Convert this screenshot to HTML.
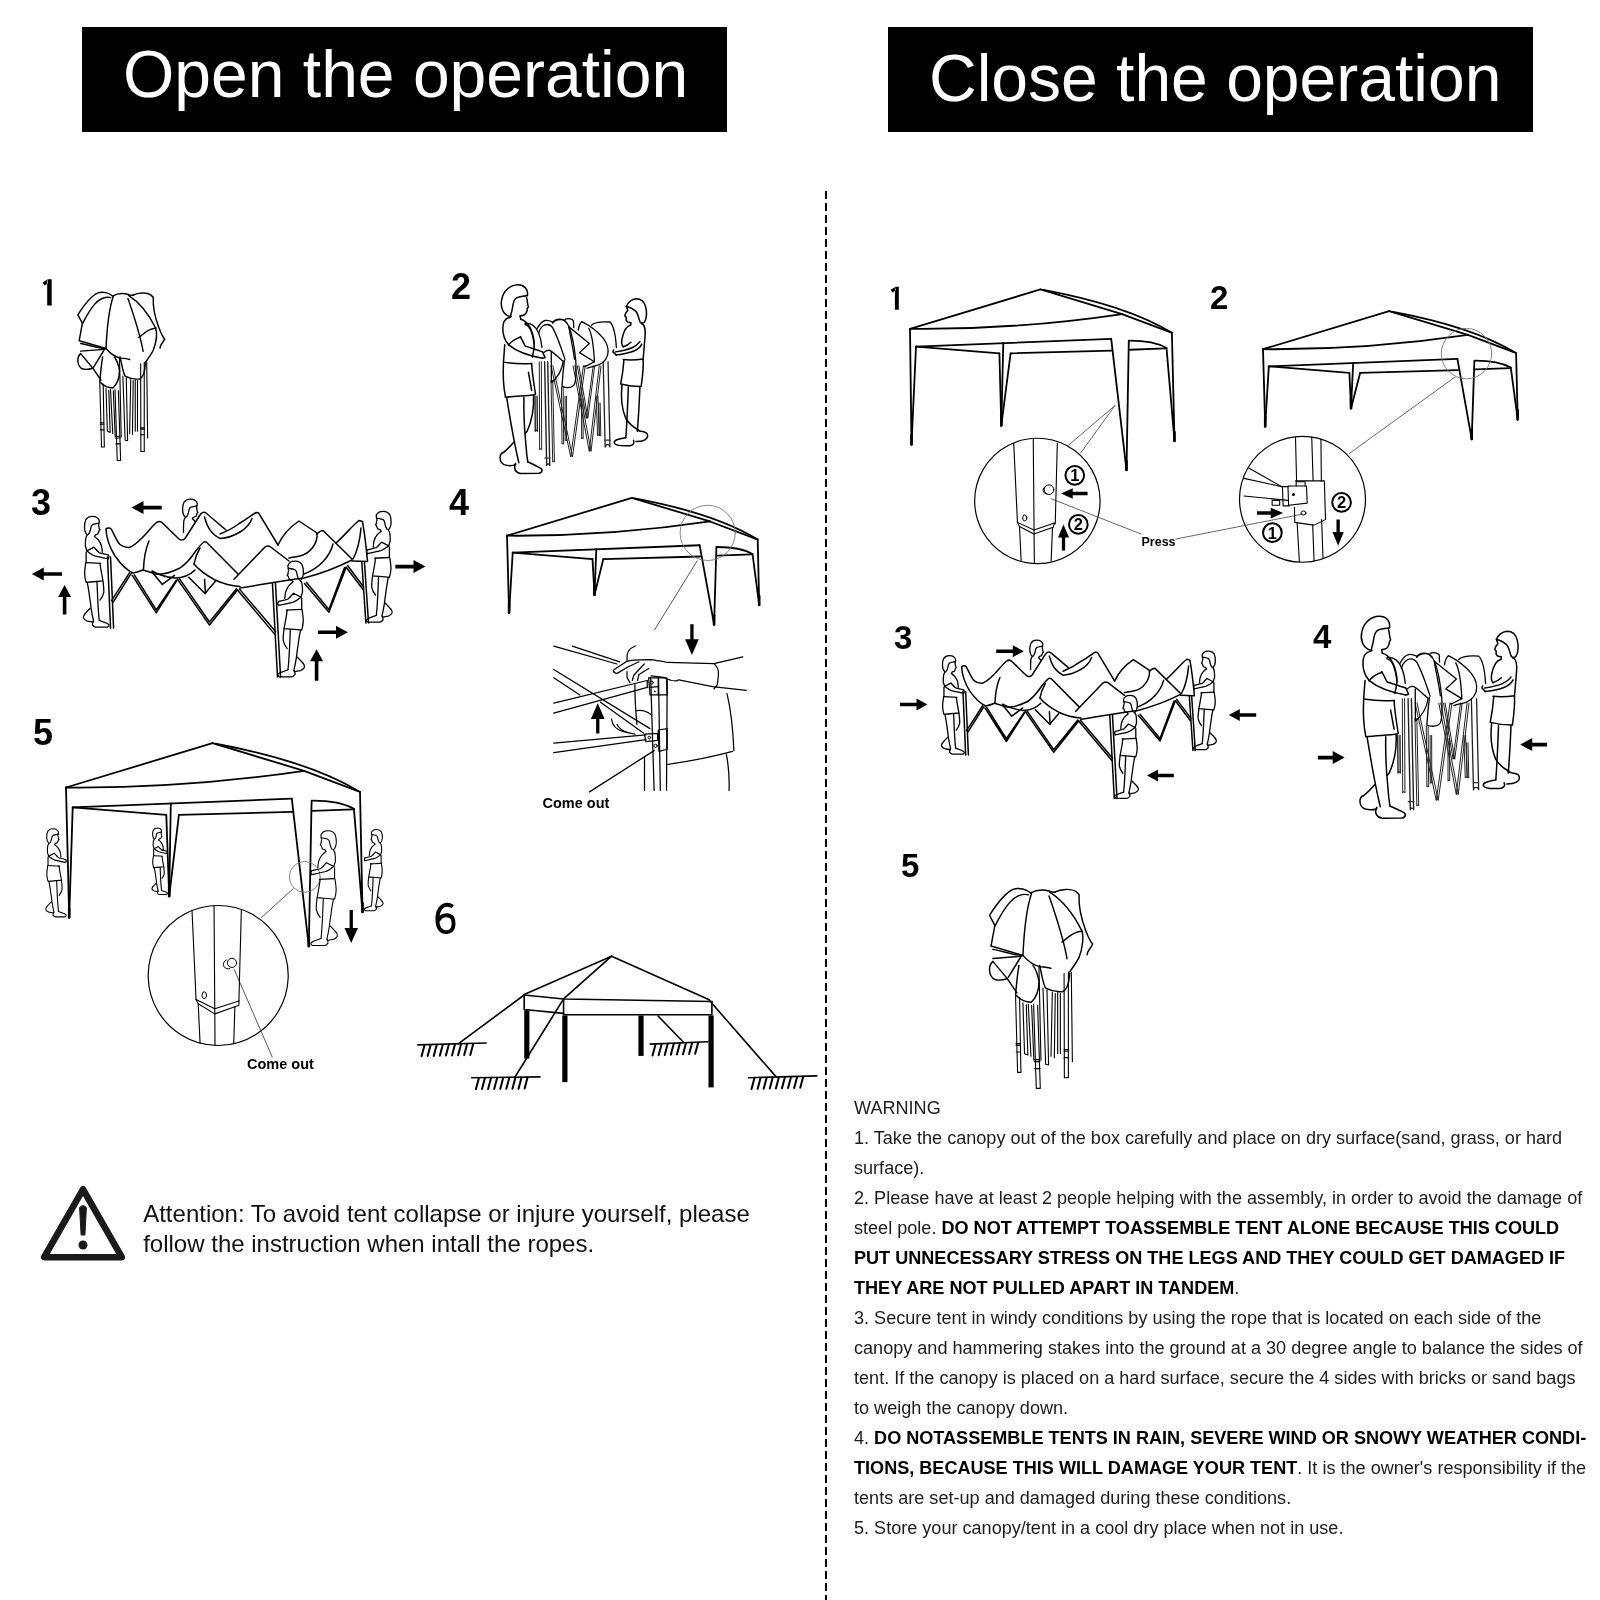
<!DOCTYPE html>
<html><head><meta charset="utf-8">
<style>
html,body{margin:0;padding:0;background:#fff;}
body{width:1600px;height:1600px;overflow:hidden;position:relative;font-family:"Liberation Sans",sans-serif;}
svg{position:absolute;left:0;top:0;filter:grayscale(1);}
.t{font-family:"Liberation Sans",sans-serif;}
</style></head>
<body>
<svg width="1600" height="1600" viewBox="0 0 1600 1600">
<rect x="0" y="0" width="1600" height="1600" fill="#fff"/>
<!-- titles -->
<rect x="82" y="27" width="645" height="105" fill="#000"/>
<rect x="888" y="27" width="645" height="105" fill="#000"/>
<text class="t" x="123" y="97" font-size="66" fill="#fff">Open the operation</text>
<text class="t" x="929" y="101" font-size="66" fill="#fff">Close the operation</text>
<!-- divider -->
<line x1="826" y1="191" x2="826" y2="1600" stroke="#000" stroke-width="2" stroke-dasharray="8 4"/>

<!-- step numbers -->
<g class="t" font-weight="bold" fill="#000" font-size="36">
<text x="451" y="299.3">2</text>
<text x="31" y="515.4">3</text>
<text x="449" y="515">4</text>
<text x="33" y="744.5">5</text>
</g>
<path transform="translate(0 -0.8)" d="M452.8 907.4 C449 905 445 905.3 442.3 907.2 C438.6 910 437.4 915 437.4 920.2 C437.4 926 439 930 442.4 932 C445 933.3 449 933.2 451.5 931 C454 928.6 454.2 922 452.4 918.8 C450.5 916.2 447.5 915.8 445 916.2 C442 916.8 439.6 918.6 438.2 921.6" fill="none" stroke="#000" stroke-width="3.9" stroke-linecap="butt"/>
<g class="t" font-weight="bold" fill="#000" font-size="33">
<text x="1210" y="308.7">2</text>
<text x="894" y="648.7">3</text>
<text x="1313" y="648.3">4</text>
<text x="901" y="877">5</text>
</g>

<path d="M47.2 279.3 L51.7 279.3 L51.7 305.5 L47.2 305.5 Z M47.6 279.4 L42.6 282.6 L44.4 285.6 L48 283.4 Z" fill="#000"/>
<path d="M894.9 286.8 L898.8 286.8 L898.8 309.7 L894.9 309.7 Z M895.2 286.9 L890.6 289.8 L892.3 292.6 L895.6 290.5 Z" fill="#000"/>
<!-- attention -->
<g id="warn-tri">
<path d="M83 1189.3 L44.2 1257.2 L121.8 1257.2 Z" fill="none" stroke="#1a1a1a" stroke-width="6.6" stroke-linejoin="round"/>
<path d="M79.6 1207.5 Q83 1203.8 86.4 1207.5 L84.9 1235 L81.1 1235 Z" fill="#1a1a1a" stroke="#1a1a1a" stroke-width="1" stroke-linejoin="round"/>
<circle cx="83" cy="1245" r="4.5" fill="#1a1a1a"/>
</g>
<g class="t" font-size="24" fill="#111">
<text x="143.2" y="1221.5">Attention: To avoid tent collapse or injure yourself, please</text>
<text x="143.2" y="1251.5">follow the instruction when intall the ropes.</text>
</g>

<!-- warning text -->
<g class="t" font-size="18.08" fill="#1c1c1c">
<text x="854" y="1114">WARNING</text>
<text x="854" y="1144">1. Take the canopy out of the box carefully and place on dry surface(sand, grass, or hard</text>
<text x="854" y="1174">surface).</text>
<text x="854" y="1204">2. Please have at least 2 people helping with the assembly, in order to avoid the damage of</text>
<text x="854" y="1234">steel pole. <tspan font-weight="bold" fill="#000">DO NOT ATTEMPT TOASSEMBLE TENT ALONE BECAUSE THIS COULD</tspan></text>
<text x="854" y="1264" font-weight="bold" fill="#000">PUT UNNECESSARY STRESS ON THE LEGS AND THEY COULD GET DAMAGED IF</text>
<text x="854" y="1294"><tspan font-weight="bold" fill="#000">THEY ARE NOT PULLED APART IN TANDEM</tspan>.</text>
<text x="854" y="1324">3. Secure tent in windy conditions by using the rope that is located on each side of the</text>
<text x="854" y="1354">canopy and hammering stakes into the ground at a 30 degree angle to balance the sides of</text>
<text x="854" y="1384">tent. If the canopy is placed on a hard surface, secure the 4 sides with bricks or sand bags</text>
<text x="854" y="1414">to weigh the canopy down.</text>
<text x="854" y="1444">4. <tspan font-weight="bold" fill="#000">DO NOTASSEMBLE TENTS IN RAIN, SEVERE WIND OR SNOWY WEATHER CONDI-</tspan></text>
<text x="854" y="1474"><tspan font-weight="bold" fill="#000">TIONS, BECAUSE THIS WILL DAMAGE YOUR TENT</tspan>. It is the owner's responsibility if the</text>
<text x="854" y="1504">tents are set-up and damaged during these conditions.</text>
<text x="854" y="1534">5. Store your canopy/tent in a cool dry place when not in use.</text>
</g>

<!-- DRAWINGS -->
<g id="drawings" fill="none" stroke="#000" stroke-linecap="round" stroke-linejoin="round">
<g transform="translate(910 328.9) scale(0.18125) translate(-55 -270)"><path d="M55 270 L775 52" stroke-width="1.8" vector-effect="non-scaling-stroke" /><path d="M775 52 L1225 188" stroke-width="1.8" vector-effect="non-scaling-stroke" /><path d="M790 55 Q1250 140 1500 292" stroke-width="1.8" vector-effect="non-scaling-stroke" /><path d="M1225 188 L1490 288" stroke-width="1.8" vector-effect="non-scaling-stroke" /><path d="M55 270 Q640 275 1225 188" stroke-width="1.8" vector-effect="non-scaling-stroke" /><path d="M88 368 L1165 325" stroke-width="1.8" vector-effect="non-scaling-stroke" /><path d="M88 368 L548 405" stroke-width="1.8" vector-effect="non-scaling-stroke" /><path d="M610 405 L1168 390" stroke-width="1.8" vector-effect="non-scaling-stroke" /><path d="M1268 335 Q1400 335 1470 375" stroke-width="1.8" vector-effect="non-scaling-stroke" /><path d="M1268 385 L1465 378" stroke-width="1.8" vector-effect="non-scaling-stroke" /></g><path d="M910.0 328.9 L911.5 444.5" stroke-width="1.8"/><path d="M916.0 346.7 L911.5 444.5" stroke-width="1.8"/><path d="M911.5 435.5 L911.5 444.5" stroke-width="2.6"/><path d="M1003.3 343.0 L1001.3 425.5" stroke-width="1.8"/><path d="M999.4 353.4 L1001.3 425.5" stroke-width="1.8"/><path d="M1010.6 353.4 L1001.3 425.5" stroke-width="1.8"/><path d="M1001.3 416.5 L1001.3 425.5" stroke-width="2.6"/><path d="M1111.2 338.9 L1126.5 470.0" stroke-width="1.8"/><path d="M1128.8 340.7 L1126.5 470.0" stroke-width="1.8"/><path d="M1126.5 461.0 L1126.5 470.0" stroke-width="2.6"/><path d="M1171.9 332.9 L1174.5 441.0" stroke-width="1.8"/><path d="M1166.5 347.9 L1174.5 441.0" stroke-width="1.8"/><path d="M1174.5 432.0 L1174.5 441.0" stroke-width="2.6"/>
<g transform="translate(1263 349.2) scale(0.17516) translate(-55 -270)"><path d="M55 270 L775 52" stroke-width="1.8" vector-effect="non-scaling-stroke" /><path d="M775 52 L1225 188" stroke-width="1.8" vector-effect="non-scaling-stroke" /><path d="M790 55 Q1250 140 1500 292" stroke-width="1.8" vector-effect="non-scaling-stroke" /><path d="M1225 188 L1490 288" stroke-width="1.8" vector-effect="non-scaling-stroke" /><path d="M55 270 Q640 275 1225 188" stroke-width="1.8" vector-effect="non-scaling-stroke" /><path d="M88 368 L1165 325" stroke-width="1.8" vector-effect="non-scaling-stroke" /><path d="M88 368 L548 405" stroke-width="1.8" vector-effect="non-scaling-stroke" /><path d="M610 405 L1168 390" stroke-width="1.8" vector-effect="non-scaling-stroke" /><path d="M1268 335 Q1400 335 1470 375" stroke-width="1.8" vector-effect="non-scaling-stroke" /><path d="M1268 385 L1465 378" stroke-width="1.8" vector-effect="non-scaling-stroke" /></g><path d="M1263.0 349.2 L1265.2 426.4" stroke-width="1.8"/><path d="M1268.8 366.4 L1265.2 426.4" stroke-width="1.8"/><path d="M1265.2 417.4 L1265.2 426.4" stroke-width="2.6"/><path d="M1353.2 362.9 L1351.0 408.3" stroke-width="1.8"/><path d="M1349.4 372.8 L1351.0 408.3" stroke-width="1.8"/><path d="M1360.2 372.8 L1351.0 408.3" stroke-width="1.8"/><path d="M1351.0 399.3 L1351.0 408.3" stroke-width="2.6"/><path d="M1457.4 358.8 L1471.7 439.1" stroke-width="1.8"/><path d="M1474.4 360.6 L1471.7 439.1" stroke-width="1.8"/><path d="M1471.7 430.1 L1471.7 439.1" stroke-width="2.6"/><path d="M1516.1 353.1 L1517.7 419.4" stroke-width="1.8"/><path d="M1510.8 367.6 L1517.7 419.4" stroke-width="1.8"/><path d="M1517.7 410.4 L1517.7 419.4" stroke-width="2.6"/>
<g transform="translate(507 535.7) scale(0.17349) translate(-55 -270)"><path d="M55 270 L775 52" stroke-width="1.8" vector-effect="non-scaling-stroke" /><path d="M775 52 L1225 188" stroke-width="1.8" vector-effect="non-scaling-stroke" /><path d="M790 55 Q1250 140 1500 292" stroke-width="1.8" vector-effect="non-scaling-stroke" /><path d="M1225 188 L1490 288" stroke-width="1.8" vector-effect="non-scaling-stroke" /><path d="M55 270 Q640 275 1225 188" stroke-width="1.8" vector-effect="non-scaling-stroke" /><path d="M88 368 L1165 325" stroke-width="1.8" vector-effect="non-scaling-stroke" /><path d="M88 368 L548 405" stroke-width="1.8" vector-effect="non-scaling-stroke" /><path d="M610 405 L1168 390" stroke-width="1.8" vector-effect="non-scaling-stroke" /><path d="M1268 335 Q1400 335 1470 375" stroke-width="1.8" vector-effect="non-scaling-stroke" /><path d="M1268 385 L1465 378" stroke-width="1.8" vector-effect="non-scaling-stroke" /></g><path d="M507.0 535.7 L509.1 612.8" stroke-width="1.8"/><path d="M512.7 552.7 L509.1 612.8" stroke-width="1.8"/><path d="M509.1 603.8 L509.1 612.8" stroke-width="2.6"/><path d="M596.3 549.2 L594.5 594.7" stroke-width="1.8"/><path d="M592.5 559.1 L594.5 594.7" stroke-width="1.8"/><path d="M603.3 559.1 L594.5 594.7" stroke-width="1.8"/><path d="M594.5 585.7 L594.5 594.7" stroke-width="2.6"/><path d="M699.6 545.2 L714.1 624.5" stroke-width="1.8"/><path d="M716.4 547.0 L714.1 624.5" stroke-width="1.8"/><path d="M714.1 615.5 L714.1 624.5" stroke-width="2.6"/><path d="M757.7 539.5 L759.2 605.0" stroke-width="1.8"/><path d="M752.5 553.9 L759.2 605.0" stroke-width="1.8"/><path d="M759.2 596.0 L759.2 605.0" stroke-width="2.6"/>
<g transform="translate(66 787.5) scale(0.20346) translate(-55 -270)"><path d="M55 270 L775 52" stroke-width="1.8" vector-effect="non-scaling-stroke" /><path d="M775 52 L1225 188" stroke-width="1.8" vector-effect="non-scaling-stroke" /><path d="M790 55 Q1250 140 1500 292" stroke-width="1.8" vector-effect="non-scaling-stroke" /><path d="M1225 188 L1490 288" stroke-width="1.8" vector-effect="non-scaling-stroke" /><path d="M55 270 Q640 275 1225 188" stroke-width="1.8" vector-effect="non-scaling-stroke" /><path d="M88 368 L1165 325" stroke-width="1.8" vector-effect="non-scaling-stroke" /><path d="M88 368 L548 405" stroke-width="1.8" vector-effect="non-scaling-stroke" /><path d="M610 405 L1168 390" stroke-width="1.8" vector-effect="non-scaling-stroke" /><path d="M1268 335 Q1400 335 1470 375" stroke-width="1.8" vector-effect="non-scaling-stroke" /><path d="M1268 385 L1465 378" stroke-width="1.8" vector-effect="non-scaling-stroke" /></g><path d="M66.0 787.5 L69.2 917.5" stroke-width="1.8"/><path d="M72.7 807.4 L69.2 917.5" stroke-width="1.8"/><path d="M69.2 908.5 L69.2 917.5" stroke-width="2.6"/><path d="M170.8 803.4 L169.2 896.2" stroke-width="1.8"/><path d="M166.3 815.0 L169.2 896.2" stroke-width="1.8"/><path d="M178.9 815.0 L169.2 896.2" stroke-width="1.8"/><path d="M169.2 887.2 L169.2 896.2" stroke-width="2.6"/><path d="M291.8 798.7 L308.8 946.2" stroke-width="1.8"/><path d="M311.6 800.7 L308.8 946.2" stroke-width="1.8"/><path d="M308.8 937.2 L308.8 946.2" stroke-width="2.6"/><path d="M360.0 792.0 L362.5 912.0" stroke-width="1.8"/><path d="M353.9 808.9 L362.5 912.0" stroke-width="1.8"/><path d="M362.5 903.0 L362.5 912.0" stroke-width="2.6"/>
<g transform="translate(970 400) scale(0.137500)" stroke-width="1.2" ><path d="M490 278 A456 456 0 1 1 489.9 278 Z" stroke-width="1.2" vector-effect="non-scaling-stroke" /><path d="M715 330 L1055 40" stroke-width="0.9" vector-effect="non-scaling-stroke" stroke="#555"/><path d="M805 385 L1055 40" stroke-width="0.9" vector-effect="non-scaling-stroke" stroke="#555"/><path d="M590 718 L1245 975" stroke-width="0.9" vector-effect="non-scaling-stroke" stroke="#555"/><path d="M318 315 L345 890" stroke-width="1.1" vector-effect="non-scaling-stroke" /><path d="M360 920 L372 1170" stroke-width="1.1" vector-effect="non-scaling-stroke" /><path d="M460 285 L468 1185" stroke-width="1.1" vector-effect="non-scaling-stroke" /><path d="M635 315 L620 900" stroke-width="1.1" vector-effect="non-scaling-stroke" /><path d="M600 930 L590 1170" stroke-width="1.1" vector-effect="non-scaling-stroke" /><path d="M345 890 L465 945 L615 895" stroke-width="1.1" vector-effect="non-scaling-stroke" /><path d="M360 920 L465 975 L605 925" stroke-width="1.1" vector-effect="non-scaling-stroke" /><path d="M345 890 L360 920" stroke-width="1.1" vector-effect="non-scaling-stroke" /><path d="M615 895 L605 925" stroke-width="1.1" vector-effect="non-scaling-stroke" /><ellipse cx="398" cy="858" rx="15" ry="22" stroke-width="1" vector-effect="non-scaling-stroke"/><circle cx="575" cy="652" r="35" stroke-width="1" vector-effect="non-scaling-stroke"/><path d="M560 685 A30 30 0 0 1 548 628" stroke-width="1" vector-effect="non-scaling-stroke" /><path d="M855.0 668.0 L747.0 668.0 L747.0 641.0 L662.0 680.0 L747.0 719.0 L747.0 692.0 L855.0 692.0 Z" fill="#000" stroke="none"/><circle cx="762" cy="548" r="68" stroke-width="2.0" vector-effect="non-scaling-stroke"/><text x="762" y="591.2" font-size="120" font-weight="bold" text-anchor="middle" fill="#000" stroke="none" font-family="Liberation Sans">1</text><path d="M692.0 1095.0 L692.0 1000.0 L720.0 1000.0 L680.0 905.0 L640.0 1000.0 L668.0 1000.0 L668.0 1095.0 Z" fill="#000" stroke="none"/><circle cx="788" cy="905" r="68" stroke-width="2.0" vector-effect="non-scaling-stroke"/><text x="788" y="948.2" font-size="120" font-weight="bold" text-anchor="middle" fill="#000" stroke="none" font-family="Liberation Sans">2</text></g>
<text x="1141.5" y="546.4" font-size="12.5" font-weight="bold" fill="#000" stroke="none" font-family="Liberation Sans">Press</text>
<g transform="translate(1180 400) scale(0.137500)" stroke-width="1.2" ><path d="M891 264 A458 458 0 1 1 890.9 264 Z" stroke-width="1.2" vector-effect="non-scaling-stroke" /><path d="M1230 390 L2000 -167" stroke-width="0.9" vector-effect="non-scaling-stroke" stroke="#555"/><path d="M-29 1011 L890 830" stroke-width="0.9" vector-effect="non-scaling-stroke" stroke="#555"/><path d="M840 272 L848 590" stroke-width="1.1" vector-effect="non-scaling-stroke" /><path d="M852 895 L868 1175" stroke-width="1.1" vector-effect="non-scaling-stroke" /><path d="M958 270 L968 585" stroke-width="1.1" vector-effect="non-scaling-stroke" /><path d="M965 910 L975 1170" stroke-width="1.1" vector-effect="non-scaling-stroke" /><path d="M1025 285 L1028 590" stroke-width="1.1" vector-effect="non-scaling-stroke" /><path d="M1030 870 L1040 1150" stroke-width="1.1" vector-effect="non-scaling-stroke" /><path d="M840 588 L1050 588 L1058 870 L975 910 L835 890 L832 780" stroke-width="1.1" vector-effect="non-scaling-stroke" /><path d="M845 595 L845 625 M845 595 L910 595 L910 625" stroke-width="1.1" vector-effect="non-scaling-stroke" /><path d="M785 625 L920 625 L925 750 L790 765 Z" stroke-width="1.1" vector-effect="non-scaling-stroke" /><path d="M740 630 L790 630 M745 632 L750 770 L795 770" stroke-width="1.1" vector-effect="non-scaling-stroke" /><path d="M670 730 L725 730 L725 765 L670 765 Z" stroke-width="1.1" vector-effect="non-scaling-stroke" /><path d="M500 495 L740 630" stroke-width="1.1" vector-effect="non-scaling-stroke" /><path d="M465 570 L740 630" stroke-width="1.1" vector-effect="non-scaling-stroke" /><path d="M465 698 L785 730" stroke-width="1.1" vector-effect="non-scaling-stroke" /><circle cx="825" cy="688" r="11" fill="#000" stroke="none"/><ellipse cx="898" cy="822" rx="18" ry="15" stroke-width="1" vector-effect="non-scaling-stroke"/><path d="M560.0 834.0 L660.0 834.0 L660.0 861.0 L750.0 822.0 L660.0 783.0 L660.0 810.0 L560.0 810.0 Z" fill="#000" stroke="none"/><circle cx="672" cy="965" r="68" stroke-width="2.0" vector-effect="non-scaling-stroke"/><text x="672" y="1008.2" font-size="120" font-weight="bold" text-anchor="middle" fill="#000" stroke="none" font-family="Liberation Sans">1</text><circle cx="1175" cy="745" r="68" stroke-width="2.0" vector-effect="non-scaling-stroke"/><text x="1175" y="788.2" font-size="120" font-weight="bold" text-anchor="middle" fill="#000" stroke="none" font-family="Liberation Sans">2</text><path d="M1138.0 870.0 L1138.0 960.0 L1109.0 960.0 L1150.0 1060.0 L1191.0 960.0 L1162.0 960.0 L1162.0 870.0 Z" fill="#000" stroke="none"/></g>
<circle cx="1466.5" cy="353.6" r="25.2" stroke-width="0.9" stroke="#777"/>
<circle cx="707.7" cy="532.9" r="27.6" stroke-width="0.9" stroke="#777"/>
<path d="M654.6 629.8 L697.1 561" stroke-width="0.9" stroke="#444"/>
<g transform="translate(540 620) scale(0.137500)" stroke-width="1.2" ><path d="M100 190 L560 320" stroke-width="1.25" vector-effect="non-scaling-stroke" /><path d="M235 190 L580 305" stroke-width="1.25" vector-effect="non-scaling-stroke" /><path d="M100 360 L800 790" stroke-width="1.25" vector-effect="non-scaling-stroke" /><path d="M100 420 L290 545" stroke-width="1.25" vector-effect="non-scaling-stroke" /><path d="M440 598 L752 822" stroke-width="1.25" vector-effect="non-scaling-stroke" /><path d="M100 605 L780 440" stroke-width="1.25" vector-effect="non-scaling-stroke" /><path d="M100 678 L780 490" stroke-width="1.25" vector-effect="non-scaling-stroke" /><path d="M780 440 L780 490" stroke-width="1.25" vector-effect="non-scaling-stroke" /><path d="M100 895 L770 835" stroke-width="1.25" vector-effect="non-scaling-stroke" /><path d="M100 965 L770 870" stroke-width="1.25" vector-effect="non-scaling-stroke" /><path d="M805 420 L830 1240" stroke-width="1.25" vector-effect="non-scaling-stroke" /><path d="M862 420 L875 1240" stroke-width="1.25" vector-effect="non-scaling-stroke" /><path d="M925 430 L920 1240" stroke-width="1.25" vector-effect="non-scaling-stroke" /><path d="M760 1000 L760 1240" stroke-width="1.25" vector-effect="non-scaling-stroke" /><path d="M790 420 L920 420 L925 545 L800 545 Z" stroke-width="1.25" vector-effect="non-scaling-stroke" /><path d="M860 420 L860 545" stroke-width="1.25" vector-effect="non-scaling-stroke" /><path d="M795 490 L860 485" stroke-width="1.25" vector-effect="non-scaling-stroke" /><path d="M860 800 L925 790 L925 940 L865 955 Z" stroke-width="1.25" vector-effect="non-scaling-stroke" /><path d="M760 830 L855 825 L855 875 L770 885 Z" stroke-width="1.25" vector-effect="non-scaling-stroke" /><path d="M540 380 C530 370 532 364 540 360 L627 304 C640 297 650 294 666 293 L720 290 L807 288.5 C840 292 860 298 873 298 L927 309 L1266 317 L1475 268" stroke-width="1.25" vector-effect="non-scaling-stroke" /><path d="M540 380 C548 388 556 390 562 388 L638 342 L720 304" stroke-width="1.25" vector-effect="non-scaling-stroke" /><path d="M671 440 L682 402 L758 320" stroke-width="1.25" vector-effect="non-scaling-stroke" /><path d="M709 440 L720 396 L791 353" stroke-width="1.25" vector-effect="non-scaling-stroke" /><path d="M633 375 L633 418 L655 456" stroke-width="1.25" vector-effect="non-scaling-stroke" /><path d="M807 407 L900 418 C930 428 945 438 955 440 L993 443 L1009 435 L1255 484 L1500 512" stroke-width="1.25" vector-effect="non-scaling-stroke" /><path d="M1266 317 C1290 340 1300 370 1298 391 C1296 430 1292 455 1288 473 L1266 500" stroke-width="1.25" vector-effect="non-scaling-stroke" /><path d="M633 293 C625 240 650 205 693 189" stroke-width="1.25" vector-effect="non-scaling-stroke" /><path d="M1360 535 Q1400 700 1410 950" stroke-width="1.25" vector-effect="non-scaling-stroke" /><path d="M930 1050 Q1200 1010 1400 955" stroke-width="1.25" vector-effect="non-scaling-stroke" /><path d="M1355 975 Q1380 1100 1375 1240" stroke-width="1.25" vector-effect="non-scaling-stroke" /><path d="M700 660 Q760 650 810 690" stroke-width="1.25" vector-effect="non-scaling-stroke" /><path d="M690 470 Q690 600 705 760" stroke-width="1.25" vector-effect="non-scaling-stroke" /><path d="M520 720 Q530 790 600 810 L690 830" stroke-width="1.25" vector-effect="non-scaling-stroke" /><path d="M560 760 Q580 800 640 820" stroke-width="1.25" vector-effect="non-scaling-stroke" /><path d="M360 1250 L830 950" stroke-width="1.25" vector-effect="non-scaling-stroke" /><circle cx="812" cy="455" r="12" stroke-width="1" vector-effect="non-scaling-stroke"/><circle cx="835" cy="520" r="6" fill="#000"/><circle cx="795" cy="855" r="10" stroke-width="1" vector-effect="non-scaling-stroke"/><circle cx="840" cy="915" r="12" stroke-width="1" vector-effect="non-scaling-stroke"/><path d="M1093.0 30.0 L1093.0 140.0 L1055.0 140.0 L1105.0 255.0 L1155.0 140.0 L1117.0 140.0 L1117.0 30.0 Z" fill="#000" stroke="none"/><path d="M432.0 825.0 L432.0 720.0 L470.0 720.0 L420.0 605.0 L370.0 720.0 L408.0 720.0 L408.0 825.0 Z" fill="#000" stroke="none"/></g>
<text x="542.5" y="807.7" font-size="14.5" font-weight="bold" fill="#000" stroke="none" font-family="Liberation Sans">Come out</text>
<circle cx="304.75" cy="876.9" r="15.5" stroke-width="0.9" stroke="#777"/>
<g transform="translate(140 850) scale(0.143750)" stroke-width="1.2" ><path d="M544 386 A487 487 0 1 1 543.9 386 Z" stroke-width="1.2" vector-effect="non-scaling-stroke" /><path d="M845 470 L1065 270" stroke-width="0.9" vector-effect="non-scaling-stroke" stroke="#444"/><path d="M655 830 L920 1440" stroke-width="0.9" vector-effect="non-scaling-stroke" stroke="#444"/><path d="M362 425 L390 1040" stroke-width="1.1" vector-effect="non-scaling-stroke" /><path d="M405 1070 L418 1345" stroke-width="1.1" vector-effect="non-scaling-stroke" /><path d="M515 390 L522 1360" stroke-width="1.1" vector-effect="non-scaling-stroke" /><path d="M705 420 L688 1050" stroke-width="1.1" vector-effect="non-scaling-stroke" /><path d="M660 1090 L652 1350" stroke-width="1.1" vector-effect="non-scaling-stroke" /><path d="M390 1040 L520 1105 L688 1050" stroke-width="1.1" vector-effect="non-scaling-stroke" /><path d="M405 1070 L520 1140 L660 1090" stroke-width="1.1" vector-effect="non-scaling-stroke" /><path d="M390 1040 L405 1070" stroke-width="1.1" vector-effect="non-scaling-stroke" /><path d="M688 1050 L688 1080 L660 1090" stroke-width="1.1" vector-effect="non-scaling-stroke" /><ellipse cx="447" cy="1010" rx="16" ry="24" stroke-width="1" vector-effect="non-scaling-stroke"/><circle cx="640" cy="785" r="32" stroke-width="1" vector-effect="non-scaling-stroke"/><path d="M625 825 A30 30 0 0 1 600 765" stroke-width="1" vector-effect="non-scaling-stroke" /></g>
<text x="247" y="1068.8" font-size="14.5" font-weight="bold" fill="#000" stroke="none" font-family="Liberation Sans">Come out</text>
<path d="M349.6 910.0 L349.6 928.0 L344.5 928.0 L351.2 943.0 L358.0 928.0 L352.9 928.0 L352.9 910.0 Z" fill="#000" stroke="none"/>
<g transform="translate(70 285) scale(0.112500)" stroke-width="1.2"><path d="M378 98 C350 70 290 55 250 70 C200 90 130 170 70 265 L110 340 L82 492" stroke-width="1.45" vector-effect="non-scaling-stroke" /><path d="M362 112 C320 100 260 120 220 170 C160 240 120 330 110 345" stroke-width="1.45" vector-effect="non-scaling-stroke" /><path d="M385 100 C350 200 330 350 320 565" stroke-width="1.45" vector-effect="non-scaling-stroke" /><path d="M515 120 C560 250 620 420 650 590" stroke-width="1.45" vector-effect="non-scaling-stroke" /><path d="M378 98 C420 75 470 70 520 85 C540 92 552 95 565 90" stroke-width="1.45" vector-effect="non-scaling-stroke" /><path d="M560 90 C600 70 680 60 720 90 L740 110 C735 200 760 300 790 380 C810 430 830 470 842 480 L805 540 L800 560" stroke-width="1.45" vector-effect="non-scaling-stroke" /><path d="M520 92 C580 130 680 220 760 380 C775 420 770 500 740 580 C720 620 690 660 668 690" stroke-width="1.45" vector-effect="non-scaling-stroke" /><path d="M612 465 C650 440 700 380 765 385" stroke-width="1.45" vector-effect="non-scaling-stroke" /><path d="M82 495 L320 565" stroke-width="1.45" vector-effect="non-scaling-stroke" /><path d="M95 588 L305 572" stroke-width="1.45" vector-effect="non-scaling-stroke" /><path d="M95 520 C150 530 250 560 320 568" stroke-width="1.45" vector-effect="non-scaling-stroke" /><path d="M95 610 C60 640 60 720 110 745 C140 755 170 750 200 740" stroke-width="1.45" vector-effect="non-scaling-stroke" /><path d="M95 610 L200 735 L275 845" stroke-width="1.45" vector-effect="non-scaling-stroke" /><path d="M305 575 L210 730" stroke-width="1.45" vector-effect="non-scaling-stroke" /><path d="M320 565 C350 600 400 640 450 650 C480 652 510 655 530 662" stroke-width="1.45" vector-effect="non-scaling-stroke" /><path d="M290 640 C280 700 270 800 265 860 C300 900 350 915 382 915 C420 880 440 820 440 760 C430 700 410 660 395 640" stroke-width="1.45" vector-effect="non-scaling-stroke" /><path d="M445 640 C460 700 470 780 490 810 C530 830 580 840 620 835 C650 820 665 780 670 700" stroke-width="1.45" vector-effect="non-scaling-stroke" /><path d="M265 870 L280 1440 L305 1440 L295 880" stroke-width="1.1" vector-effect="non-scaling-stroke" /><path d="M268 1225 L300 1225 M268 1238 L300 1238 M270 1288 L302 1288" stroke-width="1.1" vector-effect="non-scaling-stroke" /><path d="M320 920 L332 1300 L357 1310 L345 935" stroke-width="1.1" vector-effect="non-scaling-stroke" /><path d="M360 930 L380 1320 M385 940 L402 1350" stroke-width="1.1" vector-effect="non-scaling-stroke" /><path d="M400 930 L420 1560 L450 1560 L430 940" stroke-width="1.1" vector-effect="non-scaling-stroke" /><path d="M405 1345 L445 1345 M405 1360 L447 1360 M408 1412 L448 1412" stroke-width="1.1" vector-effect="non-scaling-stroke" /><path d="M440 650 L455 1350" stroke-width="1.1" vector-effect="non-scaling-stroke" /><path d="M470 810 L490 1380 L512 1385 L500 820" stroke-width="1.1" vector-effect="non-scaling-stroke" /><path d="M540 840 L530 1320 M562 850 L555 1330" stroke-width="1.1" vector-effect="non-scaling-stroke" /><path d="M580 840 L580 1300 M600 850 L600 1300" stroke-width="1.1" vector-effect="non-scaling-stroke" /><path d="M628 700 L630 1480 L660 1480 L660 690" stroke-width="1.1" vector-effect="non-scaling-stroke" /><path d="M628 1270 L660 1270 M628 1282 L660 1282 M628 1330 L660 1330" stroke-width="1.1" vector-effect="non-scaling-stroke" /><path d="M682 690 L690 1360" stroke-width="1.1" vector-effect="non-scaling-stroke" /></g>
<g transform="translate(897 541.3) scale(1.188) translate(70 285) scale(0.112500)" stroke-width="1.2"><path d="M378 98 C350 70 290 55 250 70 C200 90 130 170 70 265 L110 340 L82 492" stroke-width="1.45" vector-effect="non-scaling-stroke" /><path d="M362 112 C320 100 260 120 220 170 C160 240 120 330 110 345" stroke-width="1.45" vector-effect="non-scaling-stroke" /><path d="M385 100 C350 200 330 350 320 565" stroke-width="1.45" vector-effect="non-scaling-stroke" /><path d="M515 120 C560 250 620 420 650 590" stroke-width="1.45" vector-effect="non-scaling-stroke" /><path d="M378 98 C420 75 470 70 520 85 C540 92 552 95 565 90" stroke-width="1.45" vector-effect="non-scaling-stroke" /><path d="M560 90 C600 70 680 60 720 90 L740 110 C735 200 760 300 790 380 C810 430 830 470 842 480 L805 540 L800 560" stroke-width="1.45" vector-effect="non-scaling-stroke" /><path d="M520 92 C580 130 680 220 760 380 C775 420 770 500 740 580 C720 620 690 660 668 690" stroke-width="1.45" vector-effect="non-scaling-stroke" /><path d="M612 465 C650 440 700 380 765 385" stroke-width="1.45" vector-effect="non-scaling-stroke" /><path d="M82 495 L320 565" stroke-width="1.45" vector-effect="non-scaling-stroke" /><path d="M95 588 L305 572" stroke-width="1.45" vector-effect="non-scaling-stroke" /><path d="M95 520 C150 530 250 560 320 568" stroke-width="1.45" vector-effect="non-scaling-stroke" /><path d="M95 610 C60 640 60 720 110 745 C140 755 170 750 200 740" stroke-width="1.45" vector-effect="non-scaling-stroke" /><path d="M95 610 L200 735 L275 845" stroke-width="1.45" vector-effect="non-scaling-stroke" /><path d="M305 575 L210 730" stroke-width="1.45" vector-effect="non-scaling-stroke" /><path d="M320 565 C350 600 400 640 450 650 C480 652 510 655 530 662" stroke-width="1.45" vector-effect="non-scaling-stroke" /><path d="M290 640 C280 700 270 800 265 860 C300 900 350 915 382 915 C420 880 440 820 440 760 C430 700 410 660 395 640" stroke-width="1.45" vector-effect="non-scaling-stroke" /><path d="M445 640 C460 700 470 780 490 810 C530 830 580 840 620 835 C650 820 665 780 670 700" stroke-width="1.45" vector-effect="non-scaling-stroke" /><path d="M265 870 L280 1440 L305 1440 L295 880" stroke-width="1.1" vector-effect="non-scaling-stroke" /><path d="M268 1225 L300 1225 M268 1238 L300 1238 M270 1288 L302 1288" stroke-width="1.1" vector-effect="non-scaling-stroke" /><path d="M320 920 L332 1300 L357 1310 L345 935" stroke-width="1.1" vector-effect="non-scaling-stroke" /><path d="M360 930 L380 1320 M385 940 L402 1350" stroke-width="1.1" vector-effect="non-scaling-stroke" /><path d="M400 930 L420 1560 L450 1560 L430 940" stroke-width="1.1" vector-effect="non-scaling-stroke" /><path d="M405 1345 L445 1345 M405 1360 L447 1360 M408 1412 L448 1412" stroke-width="1.1" vector-effect="non-scaling-stroke" /><path d="M440 650 L455 1350" stroke-width="1.1" vector-effect="non-scaling-stroke" /><path d="M470 810 L490 1380 L512 1385 L500 820" stroke-width="1.1" vector-effect="non-scaling-stroke" /><path d="M540 840 L530 1320 M562 850 L555 1330" stroke-width="1.1" vector-effect="non-scaling-stroke" /><path d="M580 840 L580 1300 M600 850 L600 1300" stroke-width="1.1" vector-effect="non-scaling-stroke" /><path d="M628 700 L630 1480 L660 1480 L660 690" stroke-width="1.1" vector-effect="non-scaling-stroke" /><path d="M628 1270 L660 1270 M628 1282 L660 1282 M628 1330 L660 1330" stroke-width="1.1" vector-effect="non-scaling-stroke" /><path d="M682 690 L690 1360" stroke-width="1.1" vector-effect="non-scaling-stroke" /></g>
<g transform="translate(490 275) scale(0.128125)"><g transform="translate(312.20 741.48) scale(0.53659)" stroke="#222"><path d="M135.0 -119.9 L140.0 1160.1 A15.0 15.0 0 0 1 170.0 1159.9 L165.0 -120.1" stroke-width="1.0" vector-effect="non-scaling-stroke" /><path d="M212.5 -119.6 L242.5 1390.4 A22.5 22.5 0 0 1 287.5 1389.6 L257.5 -120.4" stroke-width="1.4" vector-effect="non-scaling-stroke" /><path d="M215 1280 L290 1280" stroke-width="1.2" vector-effect="non-scaling-stroke" /><path d="M305.5 150.3 L330.5 1340.3 A12.5 12.5 0 0 1 355.5 1339.7 L330.5 149.7" stroke-width="1.0" vector-effect="non-scaling-stroke" /><path d="M307.3 -57.3 L592.3 1262.7 A13.0 13.0 0 0 1 617.7 1257.3 L332.7 -62.7" stroke-width="1.0" vector-effect="non-scaling-stroke" /><path d="M777.1 -61.8 L592.1 1258.2 M617.9 1261.8 L802.9 -58.2" stroke-width="1.0" vector-effect="non-scaling-stroke" /><path d="M458.0 250.1 L466.0 1080.1 A12.0 12.0 0 0 1 490.0 1079.9 L482.0 249.9" stroke-width="1.0" vector-effect="non-scaling-stroke" /><path d="M510.0 380.0 L512.0 1030.0 A10.0 10.0 0 0 1 532.0 1030.0 L530.0 380.0" stroke-width="1.0" vector-effect="non-scaling-stroke" /><path d="M627.2 -57.6 L862.2 1182.4 A13.0 13.0 0 0 1 887.8 1177.6 L652.8 -62.4" stroke-width="1.0" vector-effect="non-scaling-stroke" /><path d="M1007.1 -61.5 L862.1 1178.5 M887.9 1181.5 L1032.9 -58.5" stroke-width="1.0" vector-effect="non-scaling-stroke" /><path d="M749.0 420.0 L751.0 1000.0 A11.0 11.0 0 0 1 773.0 1000.0 L771.0 420.0" stroke-width="1.0" vector-effect="non-scaling-stroke" /><path d="M689.2 -58.1 L819.2 701.9 A11.0 11.0 0 0 1 840.8 698.1 L710.8 -61.9" stroke-width="1.0" vector-effect="non-scaling-stroke" /><path d="M919.1 -61.4 L819.1 698.6 M840.9 701.4 L940.9 -58.6" stroke-width="1.0" vector-effect="non-scaling-stroke" /><path d="M963.0 380.4 L983.0 955.4 A12.0 12.0 0 0 1 1007.0 954.6 L987.0 379.6" stroke-width="1.0" vector-effect="non-scaling-stroke" /><path d="M1000.0 480.2 L1010.0 960.2 A10.0 10.0 0 0 1 1030.0 959.8 L1020.0 479.8" stroke-width="1.0" vector-effect="non-scaling-stroke" /><path d="M1065.0 -119.2 L1093.0 1120.8 A35.0 35.0 0 0 1 1163.0 1119.2 L1135.0 -120.8" stroke-width="1.3" vector-effect="non-scaling-stroke" /><path d="M1093 1020 L1163 1020" stroke-width="1.2" vector-effect="non-scaling-stroke" /><path d="M73.0 380.1 L77.0 890.1 A15.0 15.0 0 0 1 107.0 889.9 L103.0 379.9" stroke-width="1.4" vector-effect="non-scaling-stroke" /></g><g transform="translate(273.18 273.18) scale(0.48781)"><path d="M0 232 C60 240 120 330 150 580" stroke-width="1.3" vector-effect="non-scaling-stroke" /><path d="M0 215 C100 200 170 260 215 360 C250 440 265 530 272 600" stroke-width="1.3" vector-effect="non-scaling-stroke" /><path d="M190 305 C230 230 260 180 320 168 C360 162 400 172 438 190" stroke-width="1.3" vector-effect="non-scaling-stroke" /><path d="M438 200 C470 160 530 140 585 150 C625 158 650 182 668 205" stroke-width="1.3" vector-effect="non-scaling-stroke" /><path d="M640 150 C690 130 760 140 775 175 L780 280" stroke-width="1.3" vector-effect="non-scaling-stroke" /><path d="M215 375 C240 280 300 232 352 232 C392 232 422 252 442 282 C485 360 545 500 640 790" stroke-width="1.3" vector-effect="non-scaling-stroke" /><path d="M442 212 C472 165 540 148 600 155 C645 168 675 210 702 265 C762 405 792 605 812 805 C822 1005 822 1150 782 1205 C742 1245 662 1252 592 1222 C600 1100 605 1000 632 805" stroke-width="1.3" vector-effect="non-scaling-stroke" /><path d="M702 270 L1030 535 L872 682 L1110 828 L1000 885 C980 895 960 900 940 905" stroke-width="1.3" vector-effect="non-scaling-stroke" /><path d="M702 275 C732 455 772 625 792 785" stroke-width="1.3" vector-effect="non-scaling-stroke" /><path d="M852 322 C862 252 888 205 910 185 C1000 230 1150 330 1250 450 C1320 540 1342 640 1322 722 C1292 822 1202 882 1102 902 C1052 912 1012 922 992 932" stroke-width="1.3" vector-effect="non-scaling-stroke" /><path d="M1062 245 C1102 200 1202 182 1360 192 C1420 252 1450 402 1462 600" stroke-width="1.3" vector-effect="non-scaling-stroke" /><path d="M1020 292 C1080 402 1100 602 1110 830" stroke-width="1.3" vector-effect="non-scaling-stroke" /><path d="M302 682 C342 642 382 632 422 662 C502 722 562 782 612 822" stroke-width="1.3" vector-effect="non-scaling-stroke" /><path d="M612 822 C592 952 522 1082 422 1162 L420 680" stroke-width="1.3" vector-effect="non-scaling-stroke" /></g><path d="M160 325 C95 310 80 240 92 190 C105 120 160 78 215 76 C265 74 300 110 292 160" stroke-width="1.5" vector-effect="non-scaling-stroke" /><path d="M292 160 C260 170 215 160 195 190 C175 215 180 260 165 300 L160 325" stroke-width="1.5" vector-effect="non-scaling-stroke" /><path d="M285 175 C295 205 290 230 300 248 C295 258 285 262 290 275 C285 290 285 300 270 310 C255 318 240 318 235 320" stroke-width="1.5" vector-effect="non-scaling-stroke" /><path d="M235 320 L240 345" stroke-width="1.5" vector-effect="non-scaling-stroke" /><path d="M165 325 L150 332" stroke-width="1.5" vector-effect="non-scaling-stroke" /><path d="M150 332 C115 340 100 380 100 420 C100 470 115 510 145 545" stroke-width="1.5" vector-effect="non-scaling-stroke" /><path d="M145 545 C175 510 205 495 240 485" stroke-width="1.5" vector-effect="non-scaling-stroke" /><path d="M240 345 C290 360 330 420 345 520 C350 560 340 600 330 640" stroke-width="1.5" vector-effect="non-scaling-stroke" /><path d="M145 545 C200 590 300 630 410 650" stroke-width="1.5" vector-effect="non-scaling-stroke" /><path d="M235 480 C255 510 265 540 275 555 C320 570 370 585 410 600" stroke-width="1.5" vector-effect="non-scaling-stroke" /><path d="M410 600 L430 645 L410 650" stroke-width="1.5" vector-effect="non-scaling-stroke" /><path d="M115 545 L105 680" stroke-width="1.5" vector-effect="non-scaling-stroke" /><path d="M105 680 C170 690 250 695 325 690" stroke-width="1.5" vector-effect="non-scaling-stroke" /><path d="M105 690 C100 780 105 870 120 950" stroke-width="1.5" vector-effect="non-scaling-stroke" /><path d="M120 955 C200 945 280 945 350 935" stroke-width="1.5" vector-effect="non-scaling-stroke" /><path d="M325 690 C330 780 345 860 355 930" stroke-width="1.5" vector-effect="non-scaling-stroke" /><path d="M300 760 L325 900" stroke-width="1.5" vector-effect="non-scaling-stroke" /><path d="M130 958 C150 1080 170 1200 190 1300 C205 1380 215 1420 225 1465" stroke-width="1.5" vector-effect="non-scaling-stroke" /><path d="M265 955 C262 1080 268 1200 280 1320 C285 1400 290 1430 295 1460" stroke-width="1.5" vector-effect="non-scaling-stroke" /><path d="M340 940 C345 1050 330 1130 290 1220 L276 1236" stroke-width="1.5" vector-effect="non-scaling-stroke" /><path d="M185 1305 C160 1335 130 1365 104 1386" stroke-width="1.5" vector-effect="non-scaling-stroke" /><path d="M100 1385 C70 1400 70 1460 110 1480 C140 1490 175 1490 200 1480" stroke-width="1.5" vector-effect="non-scaling-stroke" /><path d="M200 1470 C180 1510 200 1545 240 1550 L380 1548 C410 1545 415 1515 390 1505 C360 1490 320 1470 295 1460" stroke-width="1.5" vector-effect="non-scaling-stroke" /><path d="M1065 245 C1075 215 1105 188 1140 185 C1175 185 1205 205 1215 250 C1225 290 1222 340 1205 370 L1185 380" stroke-width="1.5" vector-effect="non-scaling-stroke" /><path d="M1065 245 C1090 250 1120 265 1140 285 C1155 305 1162 340 1170 365 L1185 380" stroke-width="1.5" vector-effect="non-scaling-stroke" /><path d="M1065 245 L1075 275 L1058 300 L1052 318 L1063 330 L1062 350 C1068 362 1072 366 1078 368 L1100 372 L1098 392" stroke-width="1.5" vector-effect="non-scaling-stroke" /><path d="M1095 392 C1060 400 1040 450 1030 500 C1025 530 1030 550 1040 560" stroke-width="1.5" vector-effect="non-scaling-stroke" /><path d="M1185 375 C1205 390 1215 430 1210 480 C1205 540 1200 600 1195 660" stroke-width="1.5" vector-effect="non-scaling-stroke" /><path d="M1040 560 C1060 555 1085 540 1100 525" stroke-width="1.5" vector-effect="non-scaling-stroke" /><path d="M1170 520 C1140 560 1100 580 980 600" stroke-width="1.5" vector-effect="non-scaling-stroke" /><path d="M1185 540 C1160 590 1100 610 985 625" stroke-width="1.5" vector-effect="non-scaling-stroke" /><path d="M965 585 L960 600 L985 625" stroke-width="1.5" vector-effect="non-scaling-stroke" /><path d="M1040 660 C1090 665 1150 662 1195 655" stroke-width="1.5" vector-effect="non-scaling-stroke" /><path d="M1045 665 C1040 740 1030 800 1020 850 C1080 865 1130 870 1180 870 C1190 800 1200 730 1195 660" stroke-width="1.5" vector-effect="non-scaling-stroke" /><path d="M1080 872 C1075 1000 1070 1150 1060 1270" stroke-width="1.5" vector-effect="non-scaling-stroke" /><path d="M1170 872 C1165 1000 1160 1100 1150 1220" stroke-width="1.5" vector-effect="non-scaling-stroke" /><path d="M1030 860 C1020 950 1030 1050 1060 1120 C1100 1180 1140 1200 1160 1210" stroke-width="1.5" vector-effect="non-scaling-stroke" /><path d="M1060 1270 C1000 1280 965 1290 970 1310 C975 1330 1030 1335 1090 1332 C1120 1330 1130 1310 1120 1290" stroke-width="1.5" vector-effect="non-scaling-stroke" /><path d="M1150 1210 C1180 1230 1225 1210 1230 1250 C1235 1280 1200 1300 1140 1300" stroke-width="1.5" vector-effect="non-scaling-stroke" /></g>
<g transform="translate(819.9 311.6) scale(1.08 1.07) translate(490 275) scale(0.128125)"><g transform="translate(312.20 741.48) scale(0.53659)" stroke="#222"><path d="M135.0 -119.9 L140.0 1160.1 A15.0 15.0 0 0 1 170.0 1159.9 L165.0 -120.1" stroke-width="1.0" vector-effect="non-scaling-stroke" /><path d="M212.5 -119.6 L242.5 1390.4 A22.5 22.5 0 0 1 287.5 1389.6 L257.5 -120.4" stroke-width="1.4" vector-effect="non-scaling-stroke" /><path d="M215 1280 L290 1280" stroke-width="1.2" vector-effect="non-scaling-stroke" /><path d="M305.5 150.3 L330.5 1340.3 A12.5 12.5 0 0 1 355.5 1339.7 L330.5 149.7" stroke-width="1.0" vector-effect="non-scaling-stroke" /><path d="M307.3 -57.3 L592.3 1262.7 A13.0 13.0 0 0 1 617.7 1257.3 L332.7 -62.7" stroke-width="1.0" vector-effect="non-scaling-stroke" /><path d="M777.1 -61.8 L592.1 1258.2 M617.9 1261.8 L802.9 -58.2" stroke-width="1.0" vector-effect="non-scaling-stroke" /><path d="M458.0 250.1 L466.0 1080.1 A12.0 12.0 0 0 1 490.0 1079.9 L482.0 249.9" stroke-width="1.0" vector-effect="non-scaling-stroke" /><path d="M510.0 380.0 L512.0 1030.0 A10.0 10.0 0 0 1 532.0 1030.0 L530.0 380.0" stroke-width="1.0" vector-effect="non-scaling-stroke" /><path d="M627.2 -57.6 L862.2 1182.4 A13.0 13.0 0 0 1 887.8 1177.6 L652.8 -62.4" stroke-width="1.0" vector-effect="non-scaling-stroke" /><path d="M1007.1 -61.5 L862.1 1178.5 M887.9 1181.5 L1032.9 -58.5" stroke-width="1.0" vector-effect="non-scaling-stroke" /><path d="M749.0 420.0 L751.0 1000.0 A11.0 11.0 0 0 1 773.0 1000.0 L771.0 420.0" stroke-width="1.0" vector-effect="non-scaling-stroke" /><path d="M689.2 -58.1 L819.2 701.9 A11.0 11.0 0 0 1 840.8 698.1 L710.8 -61.9" stroke-width="1.0" vector-effect="non-scaling-stroke" /><path d="M919.1 -61.4 L819.1 698.6 M840.9 701.4 L940.9 -58.6" stroke-width="1.0" vector-effect="non-scaling-stroke" /><path d="M963.0 380.4 L983.0 955.4 A12.0 12.0 0 0 1 1007.0 954.6 L987.0 379.6" stroke-width="1.0" vector-effect="non-scaling-stroke" /><path d="M1000.0 480.2 L1010.0 960.2 A10.0 10.0 0 0 1 1030.0 959.8 L1020.0 479.8" stroke-width="1.0" vector-effect="non-scaling-stroke" /><path d="M1065.0 -119.2 L1093.0 1120.8 A35.0 35.0 0 0 1 1163.0 1119.2 L1135.0 -120.8" stroke-width="1.3" vector-effect="non-scaling-stroke" /><path d="M1093 1020 L1163 1020" stroke-width="1.2" vector-effect="non-scaling-stroke" /><path d="M73.0 380.1 L77.0 890.1 A15.0 15.0 0 0 1 107.0 889.9 L103.0 379.9" stroke-width="1.4" vector-effect="non-scaling-stroke" /></g><g transform="translate(273.18 273.18) scale(0.48781)"><path d="M0 232 C60 240 120 330 150 580" stroke-width="1.3" vector-effect="non-scaling-stroke" /><path d="M0 215 C100 200 170 260 215 360 C250 440 265 530 272 600" stroke-width="1.3" vector-effect="non-scaling-stroke" /><path d="M190 305 C230 230 260 180 320 168 C360 162 400 172 438 190" stroke-width="1.3" vector-effect="non-scaling-stroke" /><path d="M438 200 C470 160 530 140 585 150 C625 158 650 182 668 205" stroke-width="1.3" vector-effect="non-scaling-stroke" /><path d="M640 150 C690 130 760 140 775 175 L780 280" stroke-width="1.3" vector-effect="non-scaling-stroke" /><path d="M215 375 C240 280 300 232 352 232 C392 232 422 252 442 282 C485 360 545 500 640 790" stroke-width="1.3" vector-effect="non-scaling-stroke" /><path d="M442 212 C472 165 540 148 600 155 C645 168 675 210 702 265 C762 405 792 605 812 805 C822 1005 822 1150 782 1205 C742 1245 662 1252 592 1222 C600 1100 605 1000 632 805" stroke-width="1.3" vector-effect="non-scaling-stroke" /><path d="M702 270 L1030 535 L872 682 L1110 828 L1000 885 C980 895 960 900 940 905" stroke-width="1.3" vector-effect="non-scaling-stroke" /><path d="M702 275 C732 455 772 625 792 785" stroke-width="1.3" vector-effect="non-scaling-stroke" /><path d="M852 322 C862 252 888 205 910 185 C1000 230 1150 330 1250 450 C1320 540 1342 640 1322 722 C1292 822 1202 882 1102 902 C1052 912 1012 922 992 932" stroke-width="1.3" vector-effect="non-scaling-stroke" /><path d="M1062 245 C1102 200 1202 182 1360 192 C1420 252 1450 402 1462 600" stroke-width="1.3" vector-effect="non-scaling-stroke" /><path d="M1020 292 C1080 402 1100 602 1110 830" stroke-width="1.3" vector-effect="non-scaling-stroke" /><path d="M302 682 C342 642 382 632 422 662 C502 722 562 782 612 822" stroke-width="1.3" vector-effect="non-scaling-stroke" /><path d="M612 822 C592 952 522 1082 422 1162 L420 680" stroke-width="1.3" vector-effect="non-scaling-stroke" /></g><path d="M160 325 C95 310 80 240 92 190 C105 120 160 78 215 76 C265 74 300 110 292 160" stroke-width="1.5" vector-effect="non-scaling-stroke" /><path d="M292 160 C260 170 215 160 195 190 C175 215 180 260 165 300 L160 325" stroke-width="1.5" vector-effect="non-scaling-stroke" /><path d="M285 175 C295 205 290 230 300 248 C295 258 285 262 290 275 C285 290 285 300 270 310 C255 318 240 318 235 320" stroke-width="1.5" vector-effect="non-scaling-stroke" /><path d="M235 320 L240 345" stroke-width="1.5" vector-effect="non-scaling-stroke" /><path d="M165 325 L150 332" stroke-width="1.5" vector-effect="non-scaling-stroke" /><path d="M150 332 C115 340 100 380 100 420 C100 470 115 510 145 545" stroke-width="1.5" vector-effect="non-scaling-stroke" /><path d="M145 545 C175 510 205 495 240 485" stroke-width="1.5" vector-effect="non-scaling-stroke" /><path d="M240 345 C290 360 330 420 345 520 C350 560 340 600 330 640" stroke-width="1.5" vector-effect="non-scaling-stroke" /><path d="M145 545 C200 590 300 630 410 650" stroke-width="1.5" vector-effect="non-scaling-stroke" /><path d="M235 480 C255 510 265 540 275 555 C320 570 370 585 410 600" stroke-width="1.5" vector-effect="non-scaling-stroke" /><path d="M410 600 L430 645 L410 650" stroke-width="1.5" vector-effect="non-scaling-stroke" /><path d="M115 545 L105 680" stroke-width="1.5" vector-effect="non-scaling-stroke" /><path d="M105 680 C170 690 250 695 325 690" stroke-width="1.5" vector-effect="non-scaling-stroke" /><path d="M105 690 C100 780 105 870 120 950" stroke-width="1.5" vector-effect="non-scaling-stroke" /><path d="M120 955 C200 945 280 945 350 935" stroke-width="1.5" vector-effect="non-scaling-stroke" /><path d="M325 690 C330 780 345 860 355 930" stroke-width="1.5" vector-effect="non-scaling-stroke" /><path d="M300 760 L325 900" stroke-width="1.5" vector-effect="non-scaling-stroke" /><path d="M130 958 C150 1080 170 1200 190 1300 C205 1380 215 1420 225 1465" stroke-width="1.5" vector-effect="non-scaling-stroke" /><path d="M265 955 C262 1080 268 1200 280 1320 C285 1400 290 1430 295 1460" stroke-width="1.5" vector-effect="non-scaling-stroke" /><path d="M340 940 C345 1050 330 1130 290 1220 L276 1236" stroke-width="1.5" vector-effect="non-scaling-stroke" /><path d="M185 1305 C160 1335 130 1365 104 1386" stroke-width="1.5" vector-effect="non-scaling-stroke" /><path d="M100 1385 C70 1400 70 1460 110 1480 C140 1490 175 1490 200 1480" stroke-width="1.5" vector-effect="non-scaling-stroke" /><path d="M200 1470 C180 1510 200 1545 240 1550 L380 1548 C410 1545 415 1515 390 1505 C360 1490 320 1470 295 1460" stroke-width="1.5" vector-effect="non-scaling-stroke" /><path d="M1065 245 C1075 215 1105 188 1140 185 C1175 185 1205 205 1215 250 C1225 290 1222 340 1205 370 L1185 380" stroke-width="1.5" vector-effect="non-scaling-stroke" /><path d="M1065 245 C1090 250 1120 265 1140 285 C1155 305 1162 340 1170 365 L1185 380" stroke-width="1.5" vector-effect="non-scaling-stroke" /><path d="M1065 245 L1075 275 L1058 300 L1052 318 L1063 330 L1062 350 C1068 362 1072 366 1078 368 L1100 372 L1098 392" stroke-width="1.5" vector-effect="non-scaling-stroke" /><path d="M1095 392 C1060 400 1040 450 1030 500 C1025 530 1030 550 1040 560" stroke-width="1.5" vector-effect="non-scaling-stroke" /><path d="M1185 375 C1205 390 1215 430 1210 480 C1205 540 1200 600 1195 660" stroke-width="1.5" vector-effect="non-scaling-stroke" /><path d="M1040 560 C1060 555 1085 540 1100 525" stroke-width="1.5" vector-effect="non-scaling-stroke" /><path d="M1170 520 C1140 560 1100 580 980 600" stroke-width="1.5" vector-effect="non-scaling-stroke" /><path d="M1185 540 C1160 590 1100 610 985 625" stroke-width="1.5" vector-effect="non-scaling-stroke" /><path d="M965 585 L960 600 L985 625" stroke-width="1.5" vector-effect="non-scaling-stroke" /><path d="M1040 660 C1090 665 1150 662 1195 655" stroke-width="1.5" vector-effect="non-scaling-stroke" /><path d="M1045 665 C1040 740 1030 800 1020 850 C1080 865 1130 870 1180 870 C1190 800 1200 730 1195 660" stroke-width="1.5" vector-effect="non-scaling-stroke" /><path d="M1080 872 C1075 1000 1070 1150 1060 1270" stroke-width="1.5" vector-effect="non-scaling-stroke" /><path d="M1170 872 C1165 1000 1160 1100 1150 1220" stroke-width="1.5" vector-effect="non-scaling-stroke" /><path d="M1030 860 C1020 950 1030 1050 1060 1120 C1100 1180 1140 1200 1160 1210" stroke-width="1.5" vector-effect="non-scaling-stroke" /><path d="M1060 1270 C1000 1280 965 1290 970 1310 C975 1330 1030 1335 1090 1332 C1120 1330 1130 1310 1120 1290" stroke-width="1.5" vector-effect="non-scaling-stroke" /><path d="M1150 1210 C1180 1230 1225 1210 1230 1250 C1235 1280 1200 1300 1140 1300" stroke-width="1.5" vector-effect="non-scaling-stroke" /></g>
<g transform="translate(100 500) scale(0.1)"><path d="M60 290 C70 275 100 275 112 290 C140 340 170 420 200 445 C230 470 260 478 292 475 C340 460 380 420 420 380 C480 320 530 250 570 222 C590 210 610 215 625 230 L790 390 C810 405 830 405 850 385 L1000 150 C1015 125 1040 115 1060 130 C1120 180 1200 250 1260 300" stroke-width="1.5" vector-effect="non-scaling-stroke" /><path d="M1045 170 C1070 260 1100 330 1200 385 C1280 380 1350 350 1400 320" stroke-width="1.5" vector-effect="non-scaling-stroke" /><path d="M1200 340 C1300 300 1360 260 1400 230" stroke-width="1.5" vector-effect="non-scaling-stroke" /><path d="M60 295 C65 380 100 480 150 560 C200 630 260 700 330 730 C370 725 400 712 430 700" stroke-width="1.5" vector-effect="non-scaling-stroke" /><path d="M490 410 C460 480 440 560 435 690" stroke-width="1.5" vector-effect="non-scaling-stroke" /><path d="M430 700 C470 712 510 725 560 740 C620 748 700 730 800 680 C860 640 910 580 950 520 C980 480 1010 440 1040 420 C1050 415 1060 418 1070 428 L1380 740" stroke-width="1.5" vector-effect="non-scaling-stroke" /><path d="M940 640 C950 580 970 530 1000 480" stroke-width="1.5" vector-effect="non-scaling-stroke" /><path d="M940 640 C980 690 1060 750 1150 800 C1250 845 1330 860 1400 865" stroke-width="1.5" vector-effect="non-scaling-stroke" /><path d="M520 710 C570 740 650 770 750 780 C820 780 900 750 950 700" stroke-width="1.5" vector-effect="non-scaling-stroke" /></g><g transform="translate(240 500) scale(0.1)"><path d="M0 230 C50 200 120 150 160 125 L185 128 L380 450" stroke-width="1.5" vector-effect="non-scaling-stroke" /><path d="M0 320 C50 290 100 240 120 185" stroke-width="1.5" vector-effect="non-scaling-stroke" /><path d="M380 450 C420 360 500 270 590 210 L770 330" stroke-width="1.5" vector-effect="non-scaling-stroke" /><path d="M770 335 C780 430 700 540 600 560 C560 570 520 570 490 580" stroke-width="1.5" vector-effect="non-scaling-stroke" /><path d="M770 340 C790 320 810 305 830 305 L1120 590" stroke-width="1.5" vector-effect="non-scaling-stroke" /><path d="M930 440 C900 560 800 680 640 740" stroke-width="1.5" vector-effect="non-scaling-stroke" /><path d="M960 430 C1050 350 1130 250 1190 205 L1225 215 C1240 300 1260 450 1275 610" stroke-width="1.5" vector-effect="non-scaling-stroke" /><path d="M1210 280 C1200 400 1180 500 1130 590" stroke-width="1.5" vector-effect="non-scaling-stroke" /><path d="M1120 610 L1275 615" stroke-width="1.5" vector-effect="non-scaling-stroke" /><path d="M-60 792 L250 470 C265 460 290 460 300 465 L490 610" stroke-width="1.5" vector-effect="non-scaling-stroke" /><path d="M0 880 C200 850 400 810 640 780 C800 740 1000 660 1120 600" stroke-width="1.5" vector-effect="non-scaling-stroke" /></g><g transform="translate(75 490) scale(0.203125)"><path d="M160 330 L175 680 M175 330 L190 680" stroke-width="1.5" vector-effect="non-scaling-stroke" /><path d="M1412 355 L1432 655 M1425 355 L1445 655" stroke-width="1.5" vector-effect="non-scaling-stroke" /><path d="M972 460 L997 920 M987 460 L1012 920" stroke-width="1.5" vector-effect="non-scaling-stroke" /><path d="M638 440 L642 510" stroke-width="1.5" vector-effect="non-scaling-stroke" /><path d="M180 545 L268 408 M188 552 L276 412" stroke-width="1.5" vector-effect="non-scaling-stroke" /><path d="M282 420 L400 605 L505 440 M292 418 L400 590 L498 445" stroke-width="1.5" vector-effect="non-scaling-stroke" /><path d="M505 440 L662 665 L800 492 M514 436 L662 650 L795 486" stroke-width="1.5" vector-effect="non-scaling-stroke" /><path d="M800 492 L985 712 M810 488 L988 698" stroke-width="1.5" vector-effect="non-scaling-stroke" /><path d="M1130 460 L1250 602 L1335 380 M1140 455 L1250 588 L1327 382" stroke-width="1.5" vector-effect="non-scaling-stroke" /><path d="M1335 380 L1418 490 M1342 372 L1420 476" stroke-width="1.5" vector-effect="non-scaling-stroke" /><path d="M380 405 L430 465 L490 420" stroke-width="1.5" vector-effect="non-scaling-stroke" /><path d="M560 430 L640 510 L690 450" stroke-width="1.5" vector-effect="non-scaling-stroke" /></g><g transform="translate(91.75 516.4) scale(0.20440 0.20440)"><path d="M-22 90 C-40 75 -38 35 -29 16 C-20 3 -8 0 0 0 C12 0 22 2 26 6 C33 12 38 20 36.7 24 L34.9 38.5" stroke-width="1.3" vector-effect="non-scaling-stroke" /><path d="M34.9 33 C20 36 8 38 3.7 40.4 C-2 46 -4 50 -3.7 53.2 C-6 65 -9 75 -11 79 L-16.5 88" stroke-width="1.3" vector-effect="non-scaling-stroke" /><path d="M33 42 C36 50 36 56 36.7 60.6 L40.4 66 L34.9 71.6 L33 79 L29.4 86.2 L18.4 89.9 L12.8 97.3" stroke-width="1.3" vector-effect="non-scaling-stroke" /><path d="M-22 91.8 C-27 98 -29.4 104 -29.4 108.3 C-32 125 -31.2 140 -31.2 145 L-23.9 168.8" stroke-width="1.3" vector-effect="non-scaling-stroke" /><path d="M-23.9 168.8 L11 150.5 L25.7 167" stroke-width="1.3" vector-effect="non-scaling-stroke" /><path d="M14.7 99.1 C22 105 28 110 33 115.6 C40 125 45 135 47.7 145 C50 155 51 165 51.4 174.3" stroke-width="1.3" vector-effect="non-scaling-stroke" /><path d="M-23.9 168.8 C-10 180 0 188 14.7 192.7 C35 198 60 203 80.7 207.4" stroke-width="1.3" vector-effect="non-scaling-stroke" /><path d="M25.7 167 L36.7 178 C55 183 70 186 80.7 189" stroke-width="1.3" vector-effect="non-scaling-stroke" /><path d="M80.7 189 L84.4 198 L80.7 207.4" stroke-width="1.3" vector-effect="non-scaling-stroke" /><path d="M-27.5 174.3 L-27.5 225.7" stroke-width="1.3" vector-effect="non-scaling-stroke" /><path d="M-27.5 225.7 C-5 227 20 228 44 229.4" stroke-width="1.3" vector-effect="non-scaling-stroke" /><path d="M-29.4 227.5 C-33 250 -35 265 -34.9 280.8 C-34 300 -30 315 -27.5 323 C0 320 30 318 55 315.6 C50 290 44 260 40.4 229.4" stroke-width="1.3" vector-effect="non-scaling-stroke" /><path d="M-22 323 C-17 350 -13 370 -11 390.9 C-8 410 -5 430 -3.7 446 C0 470 5 495 9.2 512" stroke-width="1.3" vector-effect="non-scaling-stroke" /><path d="M25.7 321 C27 350 28 380 29.4 409 C31 440 33 480 36.7 508.3" stroke-width="1.3" vector-effect="non-scaling-stroke" /><path d="M55 317.6 C58 340 60 360 58.7 372.5 C55 390 48 400 40.4 409.2" stroke-width="1.3" vector-effect="non-scaling-stroke" /><path d="M-7.3 449.6 C-18 460 -28 470 -34.9 479" stroke-width="1.3" vector-effect="non-scaling-stroke" /><path d="M-34.9 479 C-40 485 -42 492 -40.4 497.3 C-35 507 -30 510 -22 512 L7.3 517.5" stroke-width="1.3" vector-effect="non-scaling-stroke" /><path d="M7.3 512 C4 520 3 526 3.7 530.3 C8 537 12 540 18.4 541.3 L77.1 541.3 C82 539 85 535 84.4 530.3 C80 525 72 521 66 519.3 L36.7 508.3" stroke-width="1.3" vector-effect="non-scaling-stroke" /></g><g transform="translate(383.8 511.3) scale(-0.20459 0.20459)"><path d="M-22 90 C-40 75 -38 35 -29 16 C-20 3 -8 0 0 0 C12 0 22 2 26 6 C33 12 38 20 36.7 24 L34.9 38.5" stroke-width="1.3" vector-effect="non-scaling-stroke" /><path d="M34.9 33 C20 36 8 38 3.7 40.4 C-2 46 -4 50 -3.7 53.2 C-6 65 -9 75 -11 79 L-16.5 88" stroke-width="1.3" vector-effect="non-scaling-stroke" /><path d="M33 42 C36 50 36 56 36.7 60.6 L40.4 66 L34.9 71.6 L33 79 L29.4 86.2 L18.4 89.9 L12.8 97.3" stroke-width="1.3" vector-effect="non-scaling-stroke" /><path d="M-22 91.8 C-27 98 -29.4 104 -29.4 108.3 C-32 125 -31.2 140 -31.2 145 L-23.9 168.8" stroke-width="1.3" vector-effect="non-scaling-stroke" /><path d="M-23.9 168.8 L11 150.5 L25.7 167" stroke-width="1.3" vector-effect="non-scaling-stroke" /><path d="M14.7 99.1 C22 105 28 110 33 115.6 C40 125 45 135 47.7 145 C50 155 51 165 51.4 174.3" stroke-width="1.3" vector-effect="non-scaling-stroke" /><path d="M-23.9 168.8 C-10 180 0 188 14.7 192.7 C35 198 60 203 80.7 207.4" stroke-width="1.3" vector-effect="non-scaling-stroke" /><path d="M25.7 167 L36.7 178 C55 183 70 186 80.7 189" stroke-width="1.3" vector-effect="non-scaling-stroke" /><path d="M80.7 189 L84.4 198 L80.7 207.4" stroke-width="1.3" vector-effect="non-scaling-stroke" /><path d="M-27.5 174.3 L-27.5 225.7" stroke-width="1.3" vector-effect="non-scaling-stroke" /><path d="M-27.5 225.7 C-5 227 20 228 44 229.4" stroke-width="1.3" vector-effect="non-scaling-stroke" /><path d="M-29.4 227.5 C-33 250 -35 265 -34.9 280.8 C-34 300 -30 315 -27.5 323 C0 320 30 318 55 315.6 C50 290 44 260 40.4 229.4" stroke-width="1.3" vector-effect="non-scaling-stroke" /><path d="M-22 323 C-17 350 -13 370 -11 390.9 C-8 410 -5 430 -3.7 446 C0 470 5 495 9.2 512" stroke-width="1.3" vector-effect="non-scaling-stroke" /><path d="M25.7 321 C27 350 28 380 29.4 409 C31 440 33 480 36.7 508.3" stroke-width="1.3" vector-effect="non-scaling-stroke" /><path d="M55 317.6 C58 340 60 360 58.7 372.5 C55 390 48 400 40.4 409.2" stroke-width="1.3" vector-effect="non-scaling-stroke" /><path d="M-7.3 449.6 C-18 460 -28 470 -34.9 479" stroke-width="1.3" vector-effect="non-scaling-stroke" /><path d="M-34.9 479 C-40 485 -42 492 -40.4 497.3 C-35 507 -30 510 -22 512 L7.3 517.5" stroke-width="1.3" vector-effect="non-scaling-stroke" /><path d="M7.3 512 C4 520 3 526 3.7 530.3 C8 537 12 540 18.4 541.3 L77.1 541.3 C82 539 85 535 84.4 530.3 C80 525 72 521 66 519.3 L36.7 508.3" stroke-width="1.3" vector-effect="non-scaling-stroke" /></g><g transform="translate(295.8 561.1) scale(-0.21376 0.21376)"><path d="M-22 90 C-40 75 -38 35 -29 16 C-20 3 -8 0 0 0 C12 0 22 2 26 6 C33 12 38 20 36.7 24 L34.9 38.5" stroke-width="1.3" vector-effect="non-scaling-stroke" /><path d="M34.9 33 C20 36 8 38 3.7 40.4 C-2 46 -4 50 -3.7 53.2 C-6 65 -9 75 -11 79 L-16.5 88" stroke-width="1.3" vector-effect="non-scaling-stroke" /><path d="M33 42 C36 50 36 56 36.7 60.6 L40.4 66 L34.9 71.6 L33 79 L29.4 86.2 L18.4 89.9 L12.8 97.3" stroke-width="1.3" vector-effect="non-scaling-stroke" /><path d="M-22 91.8 C-27 98 -29.4 104 -29.4 108.3 C-32 125 -31.2 140 -31.2 145 L-23.9 168.8" stroke-width="1.3" vector-effect="non-scaling-stroke" /><path d="M-23.9 168.8 L11 150.5 L25.7 167" stroke-width="1.3" vector-effect="non-scaling-stroke" /><path d="M14.7 99.1 C22 105 28 110 33 115.6 C40 125 45 135 47.7 145 C50 155 51 165 51.4 174.3" stroke-width="1.3" vector-effect="non-scaling-stroke" /><path d="M-23.9 168.8 C-10 180 0 188 14.7 192.7 C35 198 60 203 80.7 207.4" stroke-width="1.3" vector-effect="non-scaling-stroke" /><path d="M25.7 167 L36.7 178 C55 183 70 186 80.7 189" stroke-width="1.3" vector-effect="non-scaling-stroke" /><path d="M80.7 189 L84.4 198 L80.7 207.4" stroke-width="1.3" vector-effect="non-scaling-stroke" /><path d="M-27.5 174.3 L-27.5 225.7" stroke-width="1.3" vector-effect="non-scaling-stroke" /><path d="M-27.5 225.7 C-5 227 20 228 44 229.4" stroke-width="1.3" vector-effect="non-scaling-stroke" /><path d="M-29.4 227.5 C-33 250 -35 265 -34.9 280.8 C-34 300 -30 315 -27.5 323 C0 320 30 318 55 315.6 C50 290 44 260 40.4 229.4" stroke-width="1.3" vector-effect="non-scaling-stroke" /><path d="M-22 323 C-17 350 -13 370 -11 390.9 C-8 410 -5 430 -3.7 446 C0 470 5 495 9.2 512" stroke-width="1.3" vector-effect="non-scaling-stroke" /><path d="M25.7 321 C27 350 28 380 29.4 409 C31 440 33 480 36.7 508.3" stroke-width="1.3" vector-effect="non-scaling-stroke" /><path d="M55 317.6 C58 340 60 360 58.7 372.5 C55 390 48 400 40.4 409.2" stroke-width="1.3" vector-effect="non-scaling-stroke" /><path d="M-7.3 449.6 C-18 460 -28 470 -34.9 479" stroke-width="1.3" vector-effect="non-scaling-stroke" /><path d="M-34.9 479 C-40 485 -42 492 -40.4 497.3 C-35 507 -30 510 -22 512 L7.3 517.5" stroke-width="1.3" vector-effect="non-scaling-stroke" /><path d="M7.3 512 C4 520 3 526 3.7 530.3 C8 537 12 540 18.4 541.3 L77.1 541.3 C82 539 85 535 84.4 530.3 C80 525 72 521 66 519.3 L36.7 508.3" stroke-width="1.3" vector-effect="non-scaling-stroke" /></g><g transform="translate(189.8 499.1) scale(0.20183 0.20183)"><path d="M-22 90 C-40 75 -38 35 -29 16 C-20 3 -8 0 0 0 C12 0 22 2 26 6 C33 12 38 20 36.7 24 L34.9 38.5" stroke-width="1.3" vector-effect="non-scaling-stroke" /><path d="M34.9 33 C20 36 8 38 3.7 40.4 C-2 46 -4 50 -3.7 53.2 C-6 65 -9 75 -11 79 L-16.5 88" stroke-width="1.3" vector-effect="non-scaling-stroke" /><path d="M33 42 C36 50 36 56 36.7 60.6 L40.4 66 L34.9 71.6 L33 79 L29.4 86.2 L18.4 89.9 L12.8 97.3" stroke-width="1.3" vector-effect="non-scaling-stroke" /><path d="M-22 91.8 C-27 98 -29.4 104 -29.4 108.3 C-32 125 -31.2 140 -31.2 165" stroke-width="1.3" vector-effect="non-scaling-stroke" /><path d="M14.7 99.1 C20 104 24 108 26 112" stroke-width="1.3" vector-effect="non-scaling-stroke" /></g>
<g transform="translate(867.3 196) scale(0.89)"><g transform="translate(100 500) scale(0.1)"><path d="M60 290 C70 275 100 275 112 290 C140 340 170 420 200 445 C230 470 260 478 292 475 C340 460 380 420 420 380 C480 320 530 250 570 222 C590 210 610 215 625 230 L790 390 C810 405 830 405 850 385 L1000 150 C1015 125 1040 115 1060 130 C1120 180 1200 250 1260 300" stroke-width="1.5" vector-effect="non-scaling-stroke" /><path d="M1045 170 C1070 260 1100 330 1200 385 C1280 380 1350 350 1400 320" stroke-width="1.5" vector-effect="non-scaling-stroke" /><path d="M1200 340 C1300 300 1360 260 1400 230" stroke-width="1.5" vector-effect="non-scaling-stroke" /><path d="M60 295 C65 380 100 480 150 560 C200 630 260 700 330 730 C370 725 400 712 430 700" stroke-width="1.5" vector-effect="non-scaling-stroke" /><path d="M490 410 C460 480 440 560 435 690" stroke-width="1.5" vector-effect="non-scaling-stroke" /><path d="M430 700 C470 712 510 725 560 740 C620 748 700 730 800 680 C860 640 910 580 950 520 C980 480 1010 440 1040 420 C1050 415 1060 418 1070 428 L1380 740" stroke-width="1.5" vector-effect="non-scaling-stroke" /><path d="M940 640 C950 580 970 530 1000 480" stroke-width="1.5" vector-effect="non-scaling-stroke" /><path d="M940 640 C980 690 1060 750 1150 800 C1250 845 1330 860 1400 865" stroke-width="1.5" vector-effect="non-scaling-stroke" /><path d="M520 710 C570 740 650 770 750 780 C820 780 900 750 950 700" stroke-width="1.5" vector-effect="non-scaling-stroke" /></g><g transform="translate(240 500) scale(0.1)"><path d="M0 230 C50 200 120 150 160 125 L185 128 L380 450" stroke-width="1.5" vector-effect="non-scaling-stroke" /><path d="M0 320 C50 290 100 240 120 185" stroke-width="1.5" vector-effect="non-scaling-stroke" /><path d="M380 450 C420 360 500 270 590 210 L770 330" stroke-width="1.5" vector-effect="non-scaling-stroke" /><path d="M770 335 C780 430 700 540 600 560 C560 570 520 570 490 580" stroke-width="1.5" vector-effect="non-scaling-stroke" /><path d="M770 340 C790 320 810 305 830 305 L1120 590" stroke-width="1.5" vector-effect="non-scaling-stroke" /><path d="M930 440 C900 560 800 680 640 740" stroke-width="1.5" vector-effect="non-scaling-stroke" /><path d="M960 430 C1050 350 1130 250 1190 205 L1225 215 C1240 300 1260 450 1275 610" stroke-width="1.5" vector-effect="non-scaling-stroke" /><path d="M1210 280 C1200 400 1180 500 1130 590" stroke-width="1.5" vector-effect="non-scaling-stroke" /><path d="M1120 610 L1275 615" stroke-width="1.5" vector-effect="non-scaling-stroke" /><path d="M-60 792 L250 470 C265 460 290 460 300 465 L490 610" stroke-width="1.5" vector-effect="non-scaling-stroke" /><path d="M0 880 C200 850 400 810 640 780 C800 740 1000 660 1120 600" stroke-width="1.5" vector-effect="non-scaling-stroke" /></g><g transform="translate(75 490) scale(0.203125)"><path d="M160 330 L175 680 M175 330 L190 680" stroke-width="1.5" vector-effect="non-scaling-stroke" /><path d="M1412 355 L1432 655 M1425 355 L1445 655" stroke-width="1.5" vector-effect="non-scaling-stroke" /><path d="M972 460 L997 920 M987 460 L1012 920" stroke-width="1.5" vector-effect="non-scaling-stroke" /><path d="M638 440 L642 510" stroke-width="1.5" vector-effect="non-scaling-stroke" /><path d="M180 545 L268 408 M188 552 L276 412" stroke-width="1.5" vector-effect="non-scaling-stroke" /><path d="M282 420 L400 605 L505 440 M292 418 L400 590 L498 445" stroke-width="1.5" vector-effect="non-scaling-stroke" /><path d="M505 440 L662 665 L800 492 M514 436 L662 650 L795 486" stroke-width="1.5" vector-effect="non-scaling-stroke" /><path d="M800 492 L985 712 M810 488 L988 698" stroke-width="1.5" vector-effect="non-scaling-stroke" /><path d="M1130 460 L1250 602 L1335 380 M1140 455 L1250 588 L1327 382" stroke-width="1.5" vector-effect="non-scaling-stroke" /><path d="M1335 380 L1418 490 M1342 372 L1420 476" stroke-width="1.5" vector-effect="non-scaling-stroke" /><path d="M380 405 L430 465 L490 420" stroke-width="1.5" vector-effect="non-scaling-stroke" /><path d="M560 430 L640 510 L690 450" stroke-width="1.5" vector-effect="non-scaling-stroke" /></g><g transform="translate(91.75 516.4) scale(0.20440 0.20440)"><path d="M-22 90 C-40 75 -38 35 -29 16 C-20 3 -8 0 0 0 C12 0 22 2 26 6 C33 12 38 20 36.7 24 L34.9 38.5" stroke-width="1.3" vector-effect="non-scaling-stroke" /><path d="M34.9 33 C20 36 8 38 3.7 40.4 C-2 46 -4 50 -3.7 53.2 C-6 65 -9 75 -11 79 L-16.5 88" stroke-width="1.3" vector-effect="non-scaling-stroke" /><path d="M33 42 C36 50 36 56 36.7 60.6 L40.4 66 L34.9 71.6 L33 79 L29.4 86.2 L18.4 89.9 L12.8 97.3" stroke-width="1.3" vector-effect="non-scaling-stroke" /><path d="M-22 91.8 C-27 98 -29.4 104 -29.4 108.3 C-32 125 -31.2 140 -31.2 145 L-23.9 168.8" stroke-width="1.3" vector-effect="non-scaling-stroke" /><path d="M-23.9 168.8 L11 150.5 L25.7 167" stroke-width="1.3" vector-effect="non-scaling-stroke" /><path d="M14.7 99.1 C22 105 28 110 33 115.6 C40 125 45 135 47.7 145 C50 155 51 165 51.4 174.3" stroke-width="1.3" vector-effect="non-scaling-stroke" /><path d="M-23.9 168.8 C-10 180 0 188 14.7 192.7 C35 198 60 203 80.7 207.4" stroke-width="1.3" vector-effect="non-scaling-stroke" /><path d="M25.7 167 L36.7 178 C55 183 70 186 80.7 189" stroke-width="1.3" vector-effect="non-scaling-stroke" /><path d="M80.7 189 L84.4 198 L80.7 207.4" stroke-width="1.3" vector-effect="non-scaling-stroke" /><path d="M-27.5 174.3 L-27.5 225.7" stroke-width="1.3" vector-effect="non-scaling-stroke" /><path d="M-27.5 225.7 C-5 227 20 228 44 229.4" stroke-width="1.3" vector-effect="non-scaling-stroke" /><path d="M-29.4 227.5 C-33 250 -35 265 -34.9 280.8 C-34 300 -30 315 -27.5 323 C0 320 30 318 55 315.6 C50 290 44 260 40.4 229.4" stroke-width="1.3" vector-effect="non-scaling-stroke" /><path d="M-22 323 C-17 350 -13 370 -11 390.9 C-8 410 -5 430 -3.7 446 C0 470 5 495 9.2 512" stroke-width="1.3" vector-effect="non-scaling-stroke" /><path d="M25.7 321 C27 350 28 380 29.4 409 C31 440 33 480 36.7 508.3" stroke-width="1.3" vector-effect="non-scaling-stroke" /><path d="M55 317.6 C58 340 60 360 58.7 372.5 C55 390 48 400 40.4 409.2" stroke-width="1.3" vector-effect="non-scaling-stroke" /><path d="M-7.3 449.6 C-18 460 -28 470 -34.9 479" stroke-width="1.3" vector-effect="non-scaling-stroke" /><path d="M-34.9 479 C-40 485 -42 492 -40.4 497.3 C-35 507 -30 510 -22 512 L7.3 517.5" stroke-width="1.3" vector-effect="non-scaling-stroke" /><path d="M7.3 512 C4 520 3 526 3.7 530.3 C8 537 12 540 18.4 541.3 L77.1 541.3 C82 539 85 535 84.4 530.3 C80 525 72 521 66 519.3 L36.7 508.3" stroke-width="1.3" vector-effect="non-scaling-stroke" /></g><g transform="translate(383.8 511.3) scale(-0.20459 0.20459)"><path d="M-22 90 C-40 75 -38 35 -29 16 C-20 3 -8 0 0 0 C12 0 22 2 26 6 C33 12 38 20 36.7 24 L34.9 38.5" stroke-width="1.3" vector-effect="non-scaling-stroke" /><path d="M34.9 33 C20 36 8 38 3.7 40.4 C-2 46 -4 50 -3.7 53.2 C-6 65 -9 75 -11 79 L-16.5 88" stroke-width="1.3" vector-effect="non-scaling-stroke" /><path d="M33 42 C36 50 36 56 36.7 60.6 L40.4 66 L34.9 71.6 L33 79 L29.4 86.2 L18.4 89.9 L12.8 97.3" stroke-width="1.3" vector-effect="non-scaling-stroke" /><path d="M-22 91.8 C-27 98 -29.4 104 -29.4 108.3 C-32 125 -31.2 140 -31.2 145 L-23.9 168.8" stroke-width="1.3" vector-effect="non-scaling-stroke" /><path d="M-23.9 168.8 L11 150.5 L25.7 167" stroke-width="1.3" vector-effect="non-scaling-stroke" /><path d="M14.7 99.1 C22 105 28 110 33 115.6 C40 125 45 135 47.7 145 C50 155 51 165 51.4 174.3" stroke-width="1.3" vector-effect="non-scaling-stroke" /><path d="M-23.9 168.8 C-10 180 0 188 14.7 192.7 C35 198 60 203 80.7 207.4" stroke-width="1.3" vector-effect="non-scaling-stroke" /><path d="M25.7 167 L36.7 178 C55 183 70 186 80.7 189" stroke-width="1.3" vector-effect="non-scaling-stroke" /><path d="M80.7 189 L84.4 198 L80.7 207.4" stroke-width="1.3" vector-effect="non-scaling-stroke" /><path d="M-27.5 174.3 L-27.5 225.7" stroke-width="1.3" vector-effect="non-scaling-stroke" /><path d="M-27.5 225.7 C-5 227 20 228 44 229.4" stroke-width="1.3" vector-effect="non-scaling-stroke" /><path d="M-29.4 227.5 C-33 250 -35 265 -34.9 280.8 C-34 300 -30 315 -27.5 323 C0 320 30 318 55 315.6 C50 290 44 260 40.4 229.4" stroke-width="1.3" vector-effect="non-scaling-stroke" /><path d="M-22 323 C-17 350 -13 370 -11 390.9 C-8 410 -5 430 -3.7 446 C0 470 5 495 9.2 512" stroke-width="1.3" vector-effect="non-scaling-stroke" /><path d="M25.7 321 C27 350 28 380 29.4 409 C31 440 33 480 36.7 508.3" stroke-width="1.3" vector-effect="non-scaling-stroke" /><path d="M55 317.6 C58 340 60 360 58.7 372.5 C55 390 48 400 40.4 409.2" stroke-width="1.3" vector-effect="non-scaling-stroke" /><path d="M-7.3 449.6 C-18 460 -28 470 -34.9 479" stroke-width="1.3" vector-effect="non-scaling-stroke" /><path d="M-34.9 479 C-40 485 -42 492 -40.4 497.3 C-35 507 -30 510 -22 512 L7.3 517.5" stroke-width="1.3" vector-effect="non-scaling-stroke" /><path d="M7.3 512 C4 520 3 526 3.7 530.3 C8 537 12 540 18.4 541.3 L77.1 541.3 C82 539 85 535 84.4 530.3 C80 525 72 521 66 519.3 L36.7 508.3" stroke-width="1.3" vector-effect="non-scaling-stroke" /></g><g transform="translate(295.8 561.1) scale(-0.21376 0.21376)"><path d="M-22 90 C-40 75 -38 35 -29 16 C-20 3 -8 0 0 0 C12 0 22 2 26 6 C33 12 38 20 36.7 24 L34.9 38.5" stroke-width="1.3" vector-effect="non-scaling-stroke" /><path d="M34.9 33 C20 36 8 38 3.7 40.4 C-2 46 -4 50 -3.7 53.2 C-6 65 -9 75 -11 79 L-16.5 88" stroke-width="1.3" vector-effect="non-scaling-stroke" /><path d="M33 42 C36 50 36 56 36.7 60.6 L40.4 66 L34.9 71.6 L33 79 L29.4 86.2 L18.4 89.9 L12.8 97.3" stroke-width="1.3" vector-effect="non-scaling-stroke" /><path d="M-22 91.8 C-27 98 -29.4 104 -29.4 108.3 C-32 125 -31.2 140 -31.2 145 L-23.9 168.8" stroke-width="1.3" vector-effect="non-scaling-stroke" /><path d="M-23.9 168.8 L11 150.5 L25.7 167" stroke-width="1.3" vector-effect="non-scaling-stroke" /><path d="M14.7 99.1 C22 105 28 110 33 115.6 C40 125 45 135 47.7 145 C50 155 51 165 51.4 174.3" stroke-width="1.3" vector-effect="non-scaling-stroke" /><path d="M-23.9 168.8 C-10 180 0 188 14.7 192.7 C35 198 60 203 80.7 207.4" stroke-width="1.3" vector-effect="non-scaling-stroke" /><path d="M25.7 167 L36.7 178 C55 183 70 186 80.7 189" stroke-width="1.3" vector-effect="non-scaling-stroke" /><path d="M80.7 189 L84.4 198 L80.7 207.4" stroke-width="1.3" vector-effect="non-scaling-stroke" /><path d="M-27.5 174.3 L-27.5 225.7" stroke-width="1.3" vector-effect="non-scaling-stroke" /><path d="M-27.5 225.7 C-5 227 20 228 44 229.4" stroke-width="1.3" vector-effect="non-scaling-stroke" /><path d="M-29.4 227.5 C-33 250 -35 265 -34.9 280.8 C-34 300 -30 315 -27.5 323 C0 320 30 318 55 315.6 C50 290 44 260 40.4 229.4" stroke-width="1.3" vector-effect="non-scaling-stroke" /><path d="M-22 323 C-17 350 -13 370 -11 390.9 C-8 410 -5 430 -3.7 446 C0 470 5 495 9.2 512" stroke-width="1.3" vector-effect="non-scaling-stroke" /><path d="M25.7 321 C27 350 28 380 29.4 409 C31 440 33 480 36.7 508.3" stroke-width="1.3" vector-effect="non-scaling-stroke" /><path d="M55 317.6 C58 340 60 360 58.7 372.5 C55 390 48 400 40.4 409.2" stroke-width="1.3" vector-effect="non-scaling-stroke" /><path d="M-7.3 449.6 C-18 460 -28 470 -34.9 479" stroke-width="1.3" vector-effect="non-scaling-stroke" /><path d="M-34.9 479 C-40 485 -42 492 -40.4 497.3 C-35 507 -30 510 -22 512 L7.3 517.5" stroke-width="1.3" vector-effect="non-scaling-stroke" /><path d="M7.3 512 C4 520 3 526 3.7 530.3 C8 537 12 540 18.4 541.3 L77.1 541.3 C82 539 85 535 84.4 530.3 C80 525 72 521 66 519.3 L36.7 508.3" stroke-width="1.3" vector-effect="non-scaling-stroke" /></g><g transform="translate(189.8 499.1) scale(0.20183 0.20183)"><path d="M-22 90 C-40 75 -38 35 -29 16 C-20 3 -8 0 0 0 C12 0 22 2 26 6 C33 12 38 20 36.7 24 L34.9 38.5" stroke-width="1.3" vector-effect="non-scaling-stroke" /><path d="M34.9 33 C20 36 8 38 3.7 40.4 C-2 46 -4 50 -3.7 53.2 C-6 65 -9 75 -11 79 L-16.5 88" stroke-width="1.3" vector-effect="non-scaling-stroke" /><path d="M33 42 C36 50 36 56 36.7 60.6 L40.4 66 L34.9 71.6 L33 79 L29.4 86.2 L18.4 89.9 L12.8 97.3" stroke-width="1.3" vector-effect="non-scaling-stroke" /><path d="M-22 91.8 C-27 98 -29.4 104 -29.4 108.3 C-32 125 -31.2 140 -31.2 165" stroke-width="1.3" vector-effect="non-scaling-stroke" /><path d="M14.7 99.1 C20 104 24 108 26 112" stroke-width="1.3" vector-effect="non-scaling-stroke" /></g></g>
<path d="M62.0 572.2 L43.8 572.2 L43.8 567.5 L31.8 574.0 L43.8 580.5 L43.8 575.8 L62.0 575.8 Z" fill="#000" stroke="none"/><path d="M66.4 614.4 L66.4 597.0 L71.1 597.0 L64.6 585.0 L58.1 597.0 L62.8 597.0 L62.8 614.4 Z" fill="#000" stroke="none"/><path d="M395.3 568.4 L413.5 568.4 L413.5 573.1 L425.5 566.6 L413.5 560.1 L413.5 564.8 L395.3 564.8 Z" fill="#000" stroke="none"/><path d="M161.7 505.8 L143.5 505.8 L143.5 501.1 L131.5 507.6 L143.5 514.1 L143.5 509.4 L161.7 509.4 Z" fill="#000" stroke="none"/><path d="M317.9 634.0 L336.0 634.0 L336.0 638.7 L348.0 632.2 L336.0 625.7 L336.0 630.4 L317.9 630.4 Z" fill="#000" stroke="none"/><path d="M318.4 680.8 L318.4 661.3 L323.1 661.3 L316.6 649.3 L310.1 661.3 L314.8 661.3 L314.8 680.8 Z" fill="#000" stroke="none"/>
<path d="M996.2 653.0 L1012.8 653.0 L1012.8 657.2 L1023.8 651.2 L1012.8 645.2 L1012.8 649.5 L996.2 649.5 Z" fill="#000" stroke="none"/><path d="M900.0 706.2 L916.5 706.2 L916.5 710.5 L927.5 704.5 L916.5 698.5 L916.5 702.8 L900.0 702.8 Z" fill="#000" stroke="none"/><path d="M1256.2 713.3 L1239.8 713.3 L1239.8 709.0 L1228.8 715.0 L1239.8 721.0 L1239.8 716.7 L1256.2 716.7 Z" fill="#000" stroke="none"/><path d="M1173.8 773.8 L1158.0 773.8 L1158.0 769.5 L1147.0 775.5 L1158.0 781.5 L1158.0 777.2 L1173.8 777.2 Z" fill="#000" stroke="none"/>
<path d="M1317.9 759.4 L1332.7 759.4 L1332.7 764.1 L1344.7 757.6 L1332.7 751.1 L1332.7 755.8 L1317.9 755.8 Z" fill="#000" stroke="none"/><path d="M1547.0 742.8 L1532.2 742.8 L1532.2 738.1 L1520.2 744.6 L1532.2 751.1 L1532.2 746.4 L1547.0 746.4 Z" fill="#000" stroke="none"/>
<g transform="translate(410 890) scale(0.262500)"><path d="M435 398 L768 252 L1140 418" stroke-width="1.6" vector-effect="non-scaling-stroke" /><path d="M768 252 L585 415 L445 640 L400 712" stroke-width="1.6" vector-effect="non-scaling-stroke" /><path d="M435 400 L185 585" stroke-width="1.6" vector-effect="non-scaling-stroke" /><path d="M1140 420 L1395 712" stroke-width="1.6" vector-effect="non-scaling-stroke" /><path d="M945 480 L1040 578" stroke-width="1.6" vector-effect="non-scaling-stroke" /><path d="M435 400 L585 415 L1150 425" stroke-width="1.6" vector-effect="non-scaling-stroke" /><path d="M435 400 L435 455 L585 470" stroke-width="1.6" vector-effect="non-scaling-stroke" /><path d="M585 415 L585 475 L1150 475 L1150 425" stroke-width="1.6" vector-effect="non-scaling-stroke" /><path d="M445 458 L445 642" stroke-width="5.2" vector-effect="non-scaling-stroke" stroke-linecap="butt"/><path d="M590 478 L590 732" stroke-width="5.2" vector-effect="non-scaling-stroke" stroke-linecap="butt"/><path d="M880 478 L880 632" stroke-width="5.2" vector-effect="non-scaling-stroke" stroke-linecap="butt"/><path d="M1147 478 L1147 752" stroke-width="5.2" vector-effect="non-scaling-stroke" stroke-linecap="butt"/><path d="M30 590 L290 583" stroke-width="1.6" vector-effect="non-scaling-stroke" /><path d="M55.0 592.3 L44.0 633.3" stroke-width="2.0" vector-effect="non-scaling-stroke" /><path d="M78.2 591.7 L67.2 632.7" stroke-width="2.0" vector-effect="non-scaling-stroke" /><path d="M101.4 591.1 L90.4 632.1" stroke-width="2.0" vector-effect="non-scaling-stroke" /><path d="M124.6 590.5 L113.6 631.5" stroke-width="2.0" vector-effect="non-scaling-stroke" /><path d="M147.8 589.8 L136.8 630.8" stroke-width="2.0" vector-effect="non-scaling-stroke" /><path d="M171.0 589.2 L160.0 630.2" stroke-width="2.0" vector-effect="non-scaling-stroke" /><path d="M194.2 588.6 L183.2 629.6" stroke-width="2.0" vector-effect="non-scaling-stroke" /><path d="M217.4 588.0 L206.4 629.0" stroke-width="2.0" vector-effect="non-scaling-stroke" /><path d="M240.6 587.3 L229.6 628.3" stroke-width="2.0" vector-effect="non-scaling-stroke" /><path d="M235 715 L495 712" stroke-width="1.6" vector-effect="non-scaling-stroke" /><path d="M262.0 717.7 L251.0 758.7" stroke-width="2.0" vector-effect="non-scaling-stroke" /><path d="M285.2 717.4 L274.2 758.4" stroke-width="2.0" vector-effect="non-scaling-stroke" /><path d="M308.4 717.2 L297.4 758.2" stroke-width="2.0" vector-effect="non-scaling-stroke" /><path d="M331.6 716.9 L320.6 757.9" stroke-width="2.0" vector-effect="non-scaling-stroke" /><path d="M354.8 716.6 L343.8 757.6" stroke-width="2.0" vector-effect="non-scaling-stroke" /><path d="M378.0 716.4 L367.0 757.4" stroke-width="2.0" vector-effect="non-scaling-stroke" /><path d="M401.2 716.1 L390.2 757.1" stroke-width="2.0" vector-effect="non-scaling-stroke" /><path d="M424.4 715.8 L413.4 756.8" stroke-width="2.0" vector-effect="non-scaling-stroke" /><path d="M447.6 715.5 L436.6 756.5" stroke-width="2.0" vector-effect="non-scaling-stroke" /><path d="M915 587 L1135 578" stroke-width="1.6" vector-effect="non-scaling-stroke" /><path d="M935.0 589.2 L924.0 630.2" stroke-width="2.0" vector-effect="non-scaling-stroke" /><path d="M958.2 588.2 L947.2 629.2" stroke-width="2.0" vector-effect="non-scaling-stroke" /><path d="M981.4 587.3 L970.4 628.3" stroke-width="2.0" vector-effect="non-scaling-stroke" /><path d="M1004.6 586.3 L993.6 627.3" stroke-width="2.0" vector-effect="non-scaling-stroke" /><path d="M1027.8 585.4 L1016.8 626.4" stroke-width="2.0" vector-effect="non-scaling-stroke" /><path d="M1051.0 584.4 L1040.0 625.4" stroke-width="2.0" vector-effect="non-scaling-stroke" /><path d="M1074.2 583.5 L1063.2 624.5" stroke-width="2.0" vector-effect="non-scaling-stroke" /><path d="M1097.4 582.5 L1086.4 623.5" stroke-width="2.0" vector-effect="non-scaling-stroke" /><path d="M1290 715 L1550 708" stroke-width="1.6" vector-effect="non-scaling-stroke" /><path d="M1312.0 717.4 L1301.0 758.4" stroke-width="2.0" vector-effect="non-scaling-stroke" /><path d="M1335.2 716.8 L1324.2 757.8" stroke-width="2.0" vector-effect="non-scaling-stroke" /><path d="M1358.4 716.2 L1347.4 757.2" stroke-width="2.0" vector-effect="non-scaling-stroke" /><path d="M1381.6 715.5 L1370.6 756.5" stroke-width="2.0" vector-effect="non-scaling-stroke" /><path d="M1404.8 714.9 L1393.8 755.9" stroke-width="2.0" vector-effect="non-scaling-stroke" /><path d="M1428.0 714.3 L1417.0 755.3" stroke-width="2.0" vector-effect="non-scaling-stroke" /><path d="M1451.2 713.7 L1440.2 754.7" stroke-width="2.0" vector-effect="non-scaling-stroke" /><path d="M1474.4 713.0 L1463.4 754.0" stroke-width="2.0" vector-effect="non-scaling-stroke" /><path d="M1497.6 712.4 L1486.6 753.4" stroke-width="2.0" vector-effect="non-scaling-stroke" /></g>
<g transform="translate(52.5 828.75) scale(0.16284 0.16284)"><path d="M-22 90 C-40 75 -38 35 -29 16 C-20 3 -8 0 0 0 C12 0 22 2 26 6 C33 12 38 20 36.7 24 L34.9 38.5" stroke-width="1.1" vector-effect="non-scaling-stroke" /><path d="M34.9 33 C20 36 8 38 3.7 40.4 C-2 46 -4 50 -3.7 53.2 C-6 65 -9 75 -11 79 L-16.5 88" stroke-width="1.1" vector-effect="non-scaling-stroke" /><path d="M33 42 C36 50 36 56 36.7 60.6 L40.4 66 L34.9 71.6 L33 79 L29.4 86.2 L18.4 89.9 L12.8 97.3" stroke-width="1.1" vector-effect="non-scaling-stroke" /><path d="M-22 91.8 C-27 98 -29.4 104 -29.4 108.3 C-32 125 -31.2 140 -31.2 145 L-23.9 168.8" stroke-width="1.1" vector-effect="non-scaling-stroke" /><path d="M-23.9 168.8 L11 150.5 L25.7 167" stroke-width="1.1" vector-effect="non-scaling-stroke" /><path d="M14.7 99.1 C22 105 28 110 33 115.6 C40 125 45 135 47.7 145 C50 155 51 165 51.4 174.3" stroke-width="1.1" vector-effect="non-scaling-stroke" /><path d="M-23.9 168.8 C-10 180 0 188 14.7 192.7 C35 198 60 203 80.7 207.4" stroke-width="1.1" vector-effect="non-scaling-stroke" /><path d="M25.7 167 L36.7 178 C55 183 70 186 80.7 189" stroke-width="1.1" vector-effect="non-scaling-stroke" /><path d="M80.7 189 L84.4 198 L80.7 207.4" stroke-width="1.1" vector-effect="non-scaling-stroke" /><path d="M-27.5 174.3 L-27.5 225.7" stroke-width="1.1" vector-effect="non-scaling-stroke" /><path d="M-27.5 225.7 C-5 227 20 228 44 229.4" stroke-width="1.1" vector-effect="non-scaling-stroke" /><path d="M-29.4 227.5 C-33 250 -35 265 -34.9 280.8 C-34 300 -30 315 -27.5 323 C0 320 30 318 55 315.6 C50 290 44 260 40.4 229.4" stroke-width="1.1" vector-effect="non-scaling-stroke" /><path d="M-22 323 C-17 350 -13 370 -11 390.9 C-8 410 -5 430 -3.7 446 C0 470 5 495 9.2 512" stroke-width="1.1" vector-effect="non-scaling-stroke" /><path d="M25.7 321 C27 350 28 380 29.4 409 C31 440 33 480 36.7 508.3" stroke-width="1.1" vector-effect="non-scaling-stroke" /><path d="M55 317.6 C58 340 60 360 58.7 372.5 C55 390 48 400 40.4 409.2" stroke-width="1.1" vector-effect="non-scaling-stroke" /><path d="M-7.3 449.6 C-18 460 -28 470 -34.9 479" stroke-width="1.1" vector-effect="non-scaling-stroke" /><path d="M-34.9 479 C-40 485 -42 492 -40.4 497.3 C-35 507 -30 510 -22 512 L7.3 517.5" stroke-width="1.1" vector-effect="non-scaling-stroke" /><path d="M7.3 512 C4 520 3 526 3.7 530.3 C8 537 12 540 18.4 541.3 L77.1 541.3 C82 539 85 535 84.4 530.3 C80 525 72 521 66 519.3 L36.7 508.3" stroke-width="1.1" vector-effect="non-scaling-stroke" /></g>
<g transform="translate(157 828) scale(0.12294 0.12294)"><path d="M-22 90 C-40 75 -38 35 -29 16 C-20 3 -8 0 0 0 C12 0 22 2 26 6 C33 12 38 20 36.7 24 L34.9 38.5" stroke-width="1.1" vector-effect="non-scaling-stroke" /><path d="M34.9 33 C20 36 8 38 3.7 40.4 C-2 46 -4 50 -3.7 53.2 C-6 65 -9 75 -11 79 L-16.5 88" stroke-width="1.1" vector-effect="non-scaling-stroke" /><path d="M33 42 C36 50 36 56 36.7 60.6 L40.4 66 L34.9 71.6 L33 79 L29.4 86.2 L18.4 89.9 L12.8 97.3" stroke-width="1.1" vector-effect="non-scaling-stroke" /><path d="M-22 91.8 C-27 98 -29.4 104 -29.4 108.3 C-32 125 -31.2 140 -31.2 145 L-23.9 168.8" stroke-width="1.1" vector-effect="non-scaling-stroke" /><path d="M-23.9 168.8 L11 150.5 L25.7 167" stroke-width="1.1" vector-effect="non-scaling-stroke" /><path d="M14.7 99.1 C22 105 28 110 33 115.6 C40 125 45 135 47.7 145 C50 155 51 165 51.4 174.3" stroke-width="1.1" vector-effect="non-scaling-stroke" /><path d="M-23.9 168.8 C-10 180 0 188 14.7 192.7 C35 198 60 203 80.7 207.4" stroke-width="1.1" vector-effect="non-scaling-stroke" /><path d="M25.7 167 L36.7 178 C55 183 70 186 80.7 189" stroke-width="1.1" vector-effect="non-scaling-stroke" /><path d="M80.7 189 L84.4 198 L80.7 207.4" stroke-width="1.1" vector-effect="non-scaling-stroke" /><path d="M-27.5 174.3 L-27.5 225.7" stroke-width="1.1" vector-effect="non-scaling-stroke" /><path d="M-27.5 225.7 C-5 227 20 228 44 229.4" stroke-width="1.1" vector-effect="non-scaling-stroke" /><path d="M-29.4 227.5 C-33 250 -35 265 -34.9 280.8 C-34 300 -30 315 -27.5 323 C0 320 30 318 55 315.6 C50 290 44 260 40.4 229.4" stroke-width="1.1" vector-effect="non-scaling-stroke" /><path d="M-22 323 C-17 350 -13 370 -11 390.9 C-8 410 -5 430 -3.7 446 C0 470 5 495 9.2 512" stroke-width="1.1" vector-effect="non-scaling-stroke" /><path d="M25.7 321 C27 350 28 380 29.4 409 C31 440 33 480 36.7 508.3" stroke-width="1.1" vector-effect="non-scaling-stroke" /><path d="M55 317.6 C58 340 60 360 58.7 372.5 C55 390 48 400 40.4 409.2" stroke-width="1.1" vector-effect="non-scaling-stroke" /><path d="M-7.3 449.6 C-18 460 -28 470 -34.9 479" stroke-width="1.1" vector-effect="non-scaling-stroke" /><path d="M-34.9 479 C-40 485 -42 492 -40.4 497.3 C-35 507 -30 510 -22 512 L7.3 517.5" stroke-width="1.1" vector-effect="non-scaling-stroke" /><path d="M7.3 512 C4 520 3 526 3.7 530.3 C8 537 12 540 18.4 541.3 L77.1 541.3 C82 539 85 535 84.4 530.3 C80 525 72 521 66 519.3 L36.7 508.3" stroke-width="1.1" vector-effect="non-scaling-stroke" /></g>
<g transform="translate(328.75 830.75) scale(-0.21193 0.21193)"><path d="M-22 90 C-40 75 -38 35 -29 16 C-20 3 -8 0 0 0 C12 0 22 2 26 6 C33 12 38 20 36.7 24 L34.9 38.5" stroke-width="1.1" vector-effect="non-scaling-stroke" /><path d="M34.9 33 C20 36 8 38 3.7 40.4 C-2 46 -4 50 -3.7 53.2 C-6 65 -9 75 -11 79 L-16.5 88" stroke-width="1.1" vector-effect="non-scaling-stroke" /><path d="M33 42 C36 50 36 56 36.7 60.6 L40.4 66 L34.9 71.6 L33 79 L29.4 86.2 L18.4 89.9 L12.8 97.3" stroke-width="1.1" vector-effect="non-scaling-stroke" /><path d="M-22 91.8 C-27 98 -29.4 104 -29.4 108.3 C-32 125 -31.2 140 -31.2 145 L-23.9 168.8" stroke-width="1.1" vector-effect="non-scaling-stroke" /><path d="M-23.9 168.8 L11 150.5 L25.7 167" stroke-width="1.1" vector-effect="non-scaling-stroke" /><path d="M14.7 99.1 C22 105 28 110 33 115.6 C40 125 45 135 47.7 145 C50 155 51 165 51.4 174.3" stroke-width="1.1" vector-effect="non-scaling-stroke" /><path d="M-23.9 168.8 C-10 180 0 188 14.7 192.7 C35 198 60 203 80.7 207.4" stroke-width="1.1" vector-effect="non-scaling-stroke" /><path d="M25.7 167 L36.7 178 C55 183 70 186 80.7 189" stroke-width="1.1" vector-effect="non-scaling-stroke" /><path d="M80.7 189 L84.4 198 L80.7 207.4" stroke-width="1.1" vector-effect="non-scaling-stroke" /><path d="M-27.5 174.3 L-27.5 225.7" stroke-width="1.1" vector-effect="non-scaling-stroke" /><path d="M-27.5 225.7 C-5 227 20 228 44 229.4" stroke-width="1.1" vector-effect="non-scaling-stroke" /><path d="M-29.4 227.5 C-33 250 -35 265 -34.9 280.8 C-34 300 -30 315 -27.5 323 C0 320 30 318 55 315.6 C50 290 44 260 40.4 229.4" stroke-width="1.1" vector-effect="non-scaling-stroke" /><path d="M-22 323 C-17 350 -13 370 -11 390.9 C-8 410 -5 430 -3.7 446 C0 470 5 495 9.2 512" stroke-width="1.1" vector-effect="non-scaling-stroke" /><path d="M25.7 321 C27 350 28 380 29.4 409 C31 440 33 480 36.7 508.3" stroke-width="1.1" vector-effect="non-scaling-stroke" /><path d="M55 317.6 C58 340 60 360 58.7 372.5 C55 390 48 400 40.4 409.2" stroke-width="1.1" vector-effect="non-scaling-stroke" /><path d="M-7.3 449.6 C-18 460 -28 470 -34.9 479" stroke-width="1.1" vector-effect="non-scaling-stroke" /><path d="M-34.9 479 C-40 485 -42 492 -40.4 497.3 C-35 507 -30 510 -22 512 L7.3 517.5" stroke-width="1.1" vector-effect="non-scaling-stroke" /><path d="M7.3 512 C4 520 3 526 3.7 530.3 C8 537 12 540 18.4 541.3 L77.1 541.3 C82 539 85 535 84.4 530.3 C80 525 72 521 66 519.3 L36.7 508.3" stroke-width="1.1" vector-effect="non-scaling-stroke" /></g>
<g transform="translate(377 829.5) scale(-0.15000 0.15000)"><path d="M-22 90 C-40 75 -38 35 -29 16 C-20 3 -8 0 0 0 C12 0 22 2 26 6 C33 12 38 20 36.7 24 L34.9 38.5" stroke-width="1.1" vector-effect="non-scaling-stroke" /><path d="M34.9 33 C20 36 8 38 3.7 40.4 C-2 46 -4 50 -3.7 53.2 C-6 65 -9 75 -11 79 L-16.5 88" stroke-width="1.1" vector-effect="non-scaling-stroke" /><path d="M33 42 C36 50 36 56 36.7 60.6 L40.4 66 L34.9 71.6 L33 79 L29.4 86.2 L18.4 89.9 L12.8 97.3" stroke-width="1.1" vector-effect="non-scaling-stroke" /><path d="M-22 91.8 C-27 98 -29.4 104 -29.4 108.3 C-32 125 -31.2 140 -31.2 145 L-23.9 168.8" stroke-width="1.1" vector-effect="non-scaling-stroke" /><path d="M-23.9 168.8 L11 150.5 L25.7 167" stroke-width="1.1" vector-effect="non-scaling-stroke" /><path d="M14.7 99.1 C22 105 28 110 33 115.6 C40 125 45 135 47.7 145 C50 155 51 165 51.4 174.3" stroke-width="1.1" vector-effect="non-scaling-stroke" /><path d="M-23.9 168.8 C-10 180 0 188 14.7 192.7 C35 198 60 203 80.7 207.4" stroke-width="1.1" vector-effect="non-scaling-stroke" /><path d="M25.7 167 L36.7 178 C55 183 70 186 80.7 189" stroke-width="1.1" vector-effect="non-scaling-stroke" /><path d="M80.7 189 L84.4 198 L80.7 207.4" stroke-width="1.1" vector-effect="non-scaling-stroke" /><path d="M-27.5 174.3 L-27.5 225.7" stroke-width="1.1" vector-effect="non-scaling-stroke" /><path d="M-27.5 225.7 C-5 227 20 228 44 229.4" stroke-width="1.1" vector-effect="non-scaling-stroke" /><path d="M-29.4 227.5 C-33 250 -35 265 -34.9 280.8 C-34 300 -30 315 -27.5 323 C0 320 30 318 55 315.6 C50 290 44 260 40.4 229.4" stroke-width="1.1" vector-effect="non-scaling-stroke" /><path d="M-22 323 C-17 350 -13 370 -11 390.9 C-8 410 -5 430 -3.7 446 C0 470 5 495 9.2 512" stroke-width="1.1" vector-effect="non-scaling-stroke" /><path d="M25.7 321 C27 350 28 380 29.4 409 C31 440 33 480 36.7 508.3" stroke-width="1.1" vector-effect="non-scaling-stroke" /><path d="M55 317.6 C58 340 60 360 58.7 372.5 C55 390 48 400 40.4 409.2" stroke-width="1.1" vector-effect="non-scaling-stroke" /><path d="M-7.3 449.6 C-18 460 -28 470 -34.9 479" stroke-width="1.1" vector-effect="non-scaling-stroke" /><path d="M-34.9 479 C-40 485 -42 492 -40.4 497.3 C-35 507 -30 510 -22 512 L7.3 517.5" stroke-width="1.1" vector-effect="non-scaling-stroke" /><path d="M7.3 512 C4 520 3 526 3.7 530.3 C8 537 12 540 18.4 541.3 L77.1 541.3 C82 539 85 535 84.4 530.3 C80 525 72 521 66 519.3 L36.7 508.3" stroke-width="1.1" vector-effect="non-scaling-stroke" /></g>
</g>
</svg>
</body></html>
